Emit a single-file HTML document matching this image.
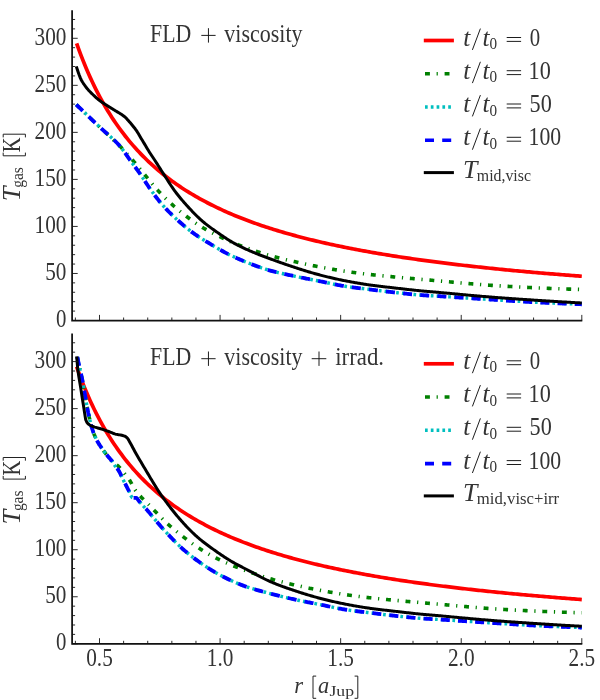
<!DOCTYPE html>
<html><head><meta charset="utf-8"><title>T_gas vs r</title>
<style>html,body{margin:0;padding:0;background:#fff;}body{width:600px;height:700px;overflow:hidden;font-family:"Liberation Serif",serif;}svg{display:block;}</style></head>
<body>
<svg width="600" height="700" viewBox="0 0 600 700" font-family='"Liberation Serif", serif' fill="#343434" style="will-change:transform">
<rect width="600" height="700" fill="#fff"/>
<g fill="none" stroke-linecap="butt" stroke-linejoin="round">
<path d="M76.64 43.4 L78.59 48.86 L80.54 54.12 L82.49 59.18 L84.44 64.04 L86.39 68.74 L88.34 73.26 L90.29 77.62 L92.24 81.84 L94.19 85.91 L96.14 89.84 L98.09 93.65 L100.04 97.33 L101.99 100.89 L103.94 104.35 L105.9 107.69 L107.85 110.94 L109.8 114.09 L111.75 117.14 L113.7 120.11 L115.65 122.99 L117.6 125.79 L119.55 128.51 L121.5 131.16 L123.45 133.74 L125.4 136.24 L127.35 138.68 L129.3 141.06 L131.25 143.38 L133.2 145.63 L135.15 147.83 L137.1 149.98 L139.05 152.07 L141 154.12 L142.95 156.11 L144.9 158.06 L146.85 159.96 L148.8 161.82 L150.76 163.63 L152.71 165.41 L154.66 167.14 L156.61 168.84 L158.56 170.5 L160.51 172.12 L162.46 173.71 L164.41 175.27 L166.36 176.79 L168.31 178.28 L170.26 179.74 L172.21 181.18 L174.16 182.58 L176.11 183.95 L178.06 185.3 L180.01 186.62 L181.96 187.92 L183.91 189.19 L185.86 190.44 L187.81 191.66 L189.76 192.86 L191.71 194.04 L193.66 195.2 L195.62 196.34 L197.57 197.45 L199.52 198.55 L201.47 199.63 L203.42 200.69 L205.37 201.73 L207.32 202.75 L209.27 203.75 L211.22 204.74 L213.17 205.71 L215.12 206.67 L217.07 207.61 L219.02 208.53 L220.97 209.44 L222.92 210.34 L224.87 211.22 L226.82 212.08 L228.77 212.94 L230.72 213.78 L232.67 214.6 L234.62 215.42 L236.57 216.22 L238.52 217.01 L240.47 217.79 L242.43 218.55 L244.38 219.31 L246.33 220.05 L248.28 220.79 L250.23 221.51 L252.18 222.22 L254.13 222.92 L256.08 223.62 L258.03 224.3 L259.98 224.97 L261.93 225.63 L263.88 226.29 L265.83 226.93 L267.78 227.57 L269.73 228.2 L271.68 228.82 L273.63 229.43 L275.58 230.03 L277.53 230.63 L279.48 231.22 L281.43 231.8 L283.38 232.37 L285.33 232.94 L287.29 233.5 L289.24 234.05 L291.19 234.59 L293.14 235.13 L295.09 235.66 L297.04 236.18 L298.99 236.7 L300.94 237.21 L302.89 237.72 L304.84 238.22 L306.79 238.71 L308.74 239.2 L310.69 239.68 L312.64 240.16 L314.59 240.63 L316.54 241.09 L318.49 241.55 L320.44 242.01 L322.39 242.46 L324.34 242.9 L326.29 243.34 L328.24 243.77 L330.19 244.2 L332.15 244.63 L334.1 245.05 L336.05 245.46 L338 245.87 L339.95 246.28 L341.9 246.68 L343.85 247.08 L345.8 247.47 L347.75 247.86 L349.7 248.25 L351.65 248.63 L353.6 249.01 L355.55 249.38 L357.5 249.75 L359.45 250.11 L361.4 250.48 L363.35 250.83 L365.3 251.19 L367.25 251.54 L369.2 251.89 L371.15 252.23 L373.1 252.57 L375.05 252.91 L377 253.24 L378.96 253.57 L380.91 253.9 L382.86 254.22 L384.81 254.54 L386.76 254.86 L388.71 255.18 L390.66 255.49 L392.61 255.8 L394.56 256.1 L396.51 256.41 L398.46 256.71 L400.41 257.01 L402.36 257.3 L404.31 257.59 L406.26 257.88 L408.21 258.17 L410.16 258.45 L412.11 258.73 L414.06 259.01 L416.01 259.29 L417.96 259.56 L419.91 259.84 L421.86 260.11 L423.82 260.37 L425.77 260.64 L427.72 260.9 L429.67 261.16 L431.62 261.42 L433.57 261.67 L435.52 261.93 L437.47 262.18 L439.42 262.43 L441.37 262.67 L443.32 262.92 L445.27 263.16 L447.22 263.4 L449.17 263.64 L451.12 263.88 L453.07 264.11 L455.02 264.34 L456.97 264.57 L458.92 264.8 L460.87 265.03 L462.82 265.26 L464.77 265.48 L466.72 265.7 L468.68 265.92 L470.63 266.14 L472.58 266.36 L474.53 266.57 L476.48 266.78 L478.43 267 L480.38 267.21 L482.33 267.41 L484.28 267.62 L486.23 267.82 L488.18 268.03 L490.13 268.23 L492.08 268.43 L494.03 268.63 L495.98 268.83 L497.93 269.02 L499.88 269.22 L501.83 269.41 L503.78 269.6 L505.73 269.79 L507.68 269.98 L509.63 270.17 L511.58 270.35 L513.53 270.54 L515.49 270.72 L517.44 270.9 L519.39 271.08 L521.34 271.26 L523.29 271.44 L525.24 271.62 L527.19 271.79 L529.14 271.96 L531.09 272.14 L533.04 272.31 L534.99 272.48 L536.94 272.65 L538.89 272.82 L540.84 272.98 L542.79 273.15 L544.74 273.31 L546.69 273.48 L548.64 273.64 L550.59 273.8 L552.54 273.96 L554.49 274.12 L556.44 274.28 L558.39 274.43 L560.35 274.59 L562.3 274.74 L564.25 274.9 L566.2 275.05 L568.15 275.2 L570.1 275.35 L572.05 275.5 L574 275.65 L575.95 275.8 L577.9 275.95 L579.85 276.09 L581.8 276.24" stroke="#ff0000" stroke-width="3.7"/>
<path d="M76.3 104.6 L77.3 105.57 L78.3 106.54 L79.3 107.52 L80.3 108.48 L81.3 109.45 L82.3 110.42 L83.3 111.39 L84.3 112.36 L85.3 113.32 L86.3 114.29 L87.3 115.25 L88.3 116.21 L89.3 117.17 L90.3 118.13 L91.3 119.09 L92.3 120.05 L93.3 121.01 L94.3 121.97 L95.3 122.92 L96.3 123.88 L97.3 124.83 L98.3 125.79 L99.3 126.73 L100.3 127.67 L101.3 128.6 L102.3 129.53 L103.3 130.45 L104.3 131.37 L105.3 132.29 L106.3 133.21 L107.3 134.12 L108.3 135.04 L109.3 135.96 L110.3 136.88 L111.3 137.81 L112.3 138.75 L113.3 139.69 L114.3 140.64 L115.3 141.59 L116.3 142.56 L117.3 143.54 L118.3 144.53 L119.3 145.54 L120.3 146.56 L121.3 147.59 L122.3 148.65 L123.3 149.71 L124.3 150.79 L125.3 151.88 L126.3 152.98 L127.3 154.1 L128.3 155.22 L129.3 156.35 L130.3 157.48 L131.3 158.63 L132.3 159.77 L133.3 160.92 L134.3 162.09 L135.3 163.27 L136.3 164.46 L137.3 165.66 L138.3 166.87 L139.3 168.09 L140.3 169.3 L141.3 170.52 L142.3 171.74 L143.3 172.95 L144.3 174.16 L145.3 175.36 L146.3 176.57 L147.3 177.8 L148.3 179.03 L149.3 180.26 L150.3 181.5 L151.3 182.73 L152.3 183.95 L153.3 185.16 L154.3 186.35 L155.3 187.52 L156.3 188.67 L157.3 189.78 L158.3 190.87 L159.3 191.94 L160.3 193 L161.3 194.05 L162.3 195.09 L163.3 196.11 L164.3 197.11 L165.3 198.11 L166.3 199.09 L167.3 200.05 L168.3 201.01 L169.3 201.95 L170.3 202.88 L171.3 203.8 L172.3 204.7 L173.3 205.59 L174.3 206.48 L175.3 207.35 L176.3 208.22 L177.3 209.07 L178.3 209.91 L179.3 210.74 L180.3 211.57 L181.3 212.38 L182.3 213.18 L183.3 213.97 L184.3 214.75 L185.3 215.53 L186.3 216.29 L187.3 217.04 L188.3 217.79 L189.3 218.53 L190.3 219.27 L191.3 220 L192.3 220.72 L193.3 221.44 L194.3 222.14 L195.3 222.84 L196.3 223.52 L197.3 224.19 L198.3 224.86 L199.3 225.51 L200.3 226.14 L201.3 226.77 L202.3 227.38 L203.3 227.98 L204.3 228.56 L205.3 229.14 L206.3 229.71 L207.3 230.26 L208.3 230.81 L209.3 231.35 L210.3 231.88 L211.3 232.41 L212.3 232.93 L213.3 233.44 L214.3 233.95 L215.3 234.45 L216.3 234.95 L217.3 235.44 L218.3 235.93 L219.3 236.41 L220.3 236.89 L221.3 237.37 L222.3 237.85 L223.3 238.32 L224.3 238.79 L225.3 239.25 L226.3 239.71 L227.3 240.16 L228.3 240.61 L229.3 241.05 L230.3 241.49 L231.3 241.93 L232.3 242.36 L233.3 242.78 L234.3 243.2 L235.3 243.61 L236.3 244.02 L237.3 244.42 L238.3 244.82 L239.3 245.21 L240.3 245.59 L241.3 245.97 L242.3 246.35 L243.3 246.72 L244.3 247.09 L245.3 247.45 L246.3 247.81 L247.3 248.17 L248.3 248.53 L249.3 248.88 L250.3 249.22 L251.3 249.57 L252.3 249.91 L253.3 250.25 L254.3 250.59 L255.3 250.93 L256.3 251.27 L257.3 251.6 L258.3 251.94 L259.3 252.27 L260.3 252.6 L261.3 252.93 L262.3 253.25 L263.3 253.58 L264.3 253.89 L265.3 254.21 L266.3 254.52 L267.3 254.82 L268.3 255.11 L269.3 255.4 L270.3 255.68 L271.3 255.96 L272.3 256.23 L273.3 256.5 L274.3 256.77 L275.3 257.03 L276.3 257.29 L277.3 257.55 L278.3 257.8 L279.3 258.06 L280.3 258.3 L281.3 258.55 L282.3 258.79 L283.3 259.04 L284.3 259.28 L285.3 259.51 L286.3 259.75 L287.3 259.98 L288.3 260.22 L289.3 260.45 L290.3 260.68 L291.3 260.91 L292.3 261.14 L293.3 261.36 L294.3 261.59 L295.3 261.82 L296.3 262.04 L297.3 262.27 L298.3 262.49 L299.3 262.72 L300.3 262.94 L301.3 263.16 L302.3 263.38 L303.3 263.6 L304.3 263.81 L305.3 264.03 L306.3 264.24 L307.3 264.45 L308.3 264.66 L309.3 264.87 L310.3 265.08 L311.3 265.29 L312.3 265.49 L313.3 265.69 L314.3 265.89 L315.3 266.09 L316.3 266.29 L317.3 266.48 L318.3 266.68 L319.3 266.87 L320.3 267.06 L321.3 267.24 L322.3 267.43 L323.3 267.61 L324.3 267.8 L325.3 267.98 L326.3 268.16 L327.3 268.34 L328.3 268.52 L329.3 268.7 L330.3 268.87 L331.3 269.05 L332.3 269.22 L333.3 269.39 L334.3 269.56 L335.3 269.72 L336.3 269.89 L337.3 270.05 L338.3 270.22 L339.3 270.38 L340.3 270.53 L341.3 270.69 L342.3 270.84 L343.3 271 L344.3 271.15 L345.3 271.29 L346.3 271.44 L347.3 271.59 L348.3 271.73 L349.3 271.87 L350.3 272.01 L351.3 272.15 L352.3 272.29 L353.3 272.42 L354.3 272.56 L355.3 272.69 L356.3 272.83 L357.3 272.96 L358.3 273.09 L359.3 273.21 L360.3 273.34 L361.3 273.47 L362.3 273.59 L363.3 273.71 L364.3 273.83 L365.3 273.95 L366.3 274.07 L367.3 274.19 L368.3 274.31 L369.3 274.42 L370.3 274.53 L371.3 274.65 L372.3 274.76 L373.3 274.86 L374.3 274.97 L375.3 275.08 L376.3 275.18 L377.3 275.29 L378.3 275.39 L379.3 275.49 L380.3 275.59 L381.3 275.69 L382.3 275.79 L383.3 275.89 L384.3 275.98 L385.3 276.08 L386.3 276.18 L387.3 276.27 L388.3 276.37 L389.3 276.46 L390.3 276.56 L391.3 276.65 L392.3 276.74 L393.3 276.84 L394.3 276.93 L395.3 277.03 L396.3 277.12 L397.3 277.22 L398.3 277.31 L399.3 277.4 L400.3 277.49 L401.3 277.59 L402.3 277.68 L403.3 277.77 L404.3 277.86 L405.3 277.95 L406.3 278.04 L407.3 278.13 L408.3 278.22 L409.3 278.3 L410.3 278.39 L411.3 278.48 L412.3 278.57 L413.3 278.66 L414.3 278.75 L415.3 278.83 L416.3 278.92 L417.3 279.01 L418.3 279.1 L419.3 279.19 L420.3 279.28 L421.3 279.37 L422.3 279.45 L423.3 279.54 L424.3 279.63 L425.3 279.72 L426.3 279.81 L427.3 279.89 L428.3 279.98 L429.3 280.07 L430.3 280.16 L431.3 280.24 L432.3 280.33 L433.3 280.42 L434.3 280.51 L435.3 280.59 L436.3 280.68 L437.3 280.77 L438.3 280.85 L439.3 280.94 L440.3 281.03 L441.3 281.11 L442.3 281.2 L443.3 281.29 L444.3 281.38 L445.3 281.47 L446.3 281.55 L447.3 281.64 L448.3 281.73 L449.3 281.82 L450.3 281.92 L451.3 282.01 L452.3 282.1 L453.3 282.19 L454.3 282.28 L455.3 282.37 L456.3 282.46 L457.3 282.55 L458.3 282.64 L459.3 282.73 L460.3 282.82 L461.3 282.92 L462.3 283.01 L463.3 283.1 L464.3 283.19 L465.3 283.27 L466.3 283.36 L467.3 283.45 L468.3 283.54 L469.3 283.63 L470.3 283.71 L471.3 283.8 L472.3 283.89 L473.3 283.97 L474.3 284.05 L475.3 284.14 L476.3 284.22 L477.3 284.3 L478.3 284.38 L479.3 284.46 L480.3 284.54 L481.3 284.62 L482.3 284.7 L483.3 284.77 L484.3 284.85 L485.3 284.92 L486.3 284.99 L487.3 285.06 L488.3 285.13 L489.3 285.2 L490.3 285.27 L491.3 285.34 L492.3 285.4 L493.3 285.47 L494.3 285.53 L495.3 285.6 L496.3 285.66 L497.3 285.73 L498.3 285.79 L499.3 285.85 L500.3 285.91 L501.3 285.97 L502.3 286.04 L503.3 286.1 L504.3 286.16 L505.3 286.22 L506.3 286.28 L507.3 286.34 L508.3 286.39 L509.3 286.45 L510.3 286.51 L511.3 286.57 L512.3 286.62 L513.3 286.68 L514.3 286.73 L515.3 286.79 L516.3 286.84 L517.3 286.9 L518.3 286.95 L519.3 287.01 L520.3 287.06 L521.3 287.11 L522.3 287.16 L523.3 287.21 L524.3 287.26 L525.3 287.32 L526.3 287.36 L527.3 287.41 L528.3 287.46 L529.3 287.51 L530.3 287.56 L531.3 287.61 L532.3 287.65 L533.3 287.7 L534.3 287.75 L535.3 287.79 L536.3 287.84 L537.3 287.88 L538.3 287.93 L539.3 287.97 L540.3 288.01 L541.3 288.06 L542.3 288.1 L543.3 288.14 L544.3 288.18 L545.3 288.22 L546.3 288.27 L547.3 288.31 L548.3 288.35 L549.3 288.39 L550.3 288.43 L551.3 288.47 L552.3 288.51 L553.3 288.55 L554.3 288.58 L555.3 288.62 L556.3 288.66 L557.3 288.7 L558.3 288.74 L559.3 288.77 L560.3 288.81 L561.3 288.85 L562.3 288.88 L563.3 288.92 L564.3 288.95 L565.3 288.99 L566.3 289.02 L567.3 289.05 L568.3 289.09 L569.3 289.12 L570.3 289.15 L571.3 289.19 L572.3 289.22 L573.3 289.25 L574.3 289.28 L575.3 289.31 L576.3 289.34 L577.3 289.37 L578.3 289.4 L579.3 289.43 L580.3 289.45 L581.3 289.48 L581.8 289.49" stroke="#008000" stroke-width="3.6" stroke-dasharray="4.9 6.7 1.2 6.8"/>
<path d="M76.3 104.6 L77.3 105.57 L78.3 106.54 L79.3 107.52 L80.3 108.48 L81.3 109.45 L82.3 110.42 L83.3 111.39 L84.3 112.36 L85.3 113.32 L86.3 114.29 L87.3 115.25 L88.3 116.21 L89.3 117.17 L90.3 118.13 L91.3 119.09 L92.3 120.05 L93.3 121.01 L94.3 121.97 L95.3 122.92 L96.3 123.88 L97.3 124.83 L98.3 125.79 L99.3 126.72 L100.3 127.64 L101.3 128.55 L102.3 129.45 L103.3 130.33 L104.3 131.21 L105.3 132.09 L106.3 132.97 L107.3 133.84 L108.3 134.72 L109.3 135.61 L110.3 136.51 L111.3 137.42 L112.3 138.35 L113.3 139.29 L114.3 140.25 L115.3 141.24 L116.3 142.25 L117.3 143.29 L118.3 144.35 L119.3 145.46 L120.3 146.6 L121.3 147.81 L122.3 149.1 L123.3 150.45 L124.3 151.84 L125.3 153.27 L126.3 154.71 L127.3 156.17 L128.3 157.61 L129.3 159.03 L130.3 160.41 L131.3 161.78 L132.3 163.14 L133.3 164.49 L134.3 165.85 L135.3 167.21 L136.3 168.57 L137.3 169.95 L138.3 171.34 L139.3 172.75 L140.3 174.18 L141.3 175.65 L142.3 177.15 L143.3 178.68 L144.3 180.22 L145.3 181.76 L146.3 183.3 L147.3 184.81 L148.3 186.31 L149.3 187.76 L150.3 189.17 L151.3 190.56 L152.3 191.94 L153.3 193.32 L154.3 194.68 L155.3 196.02 L156.3 197.35 L157.3 198.65 L158.3 199.94 L159.3 201.19 L160.3 202.42 L161.3 203.61 L162.3 204.77 L163.3 205.9 L164.3 207.01 L165.3 208.09 L166.3 209.15 L167.3 210.19 L168.3 211.22 L169.3 212.23 L170.3 213.22 L171.3 214.2 L172.3 215.16 L173.3 216.11 L174.3 217.05 L175.3 217.98 L176.3 218.9 L177.3 219.82 L178.3 220.73 L179.3 221.63 L180.3 222.52 L181.3 223.4 L182.3 224.28 L183.3 225.14 L184.3 226 L185.3 226.84 L186.3 227.67 L187.3 228.49 L188.3 229.29 L189.3 230.08 L190.3 230.86 L191.3 231.61 L192.3 232.35 L193.3 233.08 L194.3 233.79 L195.3 234.48 L196.3 235.17 L197.3 235.84 L198.3 236.5 L199.3 237.16 L200.3 237.8 L201.3 238.44 L202.3 239.06 L203.3 239.69 L204.3 240.3 L205.3 240.91 L206.3 241.52 L207.3 242.13 L208.3 242.73 L209.3 243.33 L210.3 243.93 L211.3 244.53 L212.3 245.13 L213.3 245.73 L214.3 246.33 L215.3 246.92 L216.3 247.51 L217.3 248.1 L218.3 248.69 L219.3 249.27 L220.3 249.84 L221.3 250.41 L222.3 250.97 L223.3 251.52 L224.3 252.07 L225.3 252.61 L226.3 253.13 L227.3 253.65 L228.3 254.16 L229.3 254.66 L230.3 255.14 L231.3 255.62 L232.3 256.1 L233.3 256.56 L234.3 257.02 L235.3 257.48 L236.3 257.93 L237.3 258.38 L238.3 258.82 L239.3 259.25 L240.3 259.68 L241.3 260.11 L242.3 260.53 L243.3 260.94 L244.3 261.35 L245.3 261.76 L246.3 262.16 L247.3 262.56 L248.3 262.96 L249.3 263.35 L250.3 263.73 L251.3 264.11 L252.3 264.49 L253.3 264.87 L254.3 265.24 L255.3 265.61 L256.3 265.98 L257.3 266.34 L258.3 266.7 L259.3 267.06 L260.3 267.41 L261.3 267.76 L262.3 268.1 L263.3 268.44 L264.3 268.77 L265.3 269.09 L266.3 269.41 L267.3 269.72 L268.3 270.02 L269.3 270.3 L270.3 270.58 L271.3 270.85 L272.3 271.12 L273.3 271.38 L274.3 271.64 L275.3 271.89 L276.3 272.13 L277.3 272.37 L278.3 272.61 L279.3 272.84 L280.3 273.07 L281.3 273.3 L282.3 273.53 L283.3 273.75 L284.3 273.97 L285.3 274.18 L286.3 274.4 L287.3 274.61 L288.3 274.83 L289.3 275.04 L290.3 275.25 L291.3 275.46 L292.3 275.68 L293.3 275.89 L294.3 276.1 L295.3 276.31 L296.3 276.53 L297.3 276.74 L298.3 276.94 L299.3 277.15 L300.3 277.36 L301.3 277.56 L302.3 277.76 L303.3 277.96 L304.3 278.16 L305.3 278.36 L306.3 278.56 L307.3 278.75 L308.3 278.95 L309.3 279.15 L310.3 279.34 L311.3 279.54 L312.3 279.73 L313.3 279.93 L314.3 280.12 L315.3 280.32 L316.3 280.52 L317.3 280.71 L318.3 280.91 L319.3 281.11 L320.3 281.31 L321.3 281.51 L322.3 281.72 L323.3 281.93 L324.3 282.14 L325.3 282.35 L326.3 282.56 L327.3 282.77 L328.3 282.99 L329.3 283.2 L330.3 283.42 L331.3 283.63 L332.3 283.84 L333.3 284.05 L334.3 284.26 L335.3 284.46 L336.3 284.67 L337.3 284.87 L338.3 285.06 L339.3 285.25 L340.3 285.44 L341.3 285.62 L342.3 285.8 L343.3 285.97 L344.3 286.14 L345.3 286.3 L346.3 286.45 L347.3 286.6 L348.3 286.75 L349.3 286.89 L350.3 287.03 L351.3 287.17 L352.3 287.31 L353.3 287.44 L354.3 287.57 L355.3 287.7 L356.3 287.83 L357.3 287.95 L358.3 288.08 L359.3 288.2 L360.3 288.32 L361.3 288.44 L362.3 288.56 L363.3 288.68 L364.3 288.8 L365.3 288.92 L366.3 289.05 L367.3 289.17 L368.3 289.29 L369.3 289.41 L370.3 289.54 L371.3 289.66 L372.3 289.79 L373.3 289.91 L374.3 290.04 L375.3 290.16 L376.3 290.29 L377.3 290.41 L378.3 290.53 L379.3 290.66 L380.3 290.78 L381.3 290.9 L382.3 291.02 L383.3 291.15 L384.3 291.27 L385.3 291.39 L386.3 291.51 L387.3 291.62 L388.3 291.74 L389.3 291.86 L390.3 291.97 L391.3 292.09 L392.3 292.2 L393.3 292.31 L394.3 292.42 L395.3 292.53 L396.3 292.64 L397.3 292.75 L398.3 292.86 L399.3 292.97 L400.3 293.08 L401.3 293.19 L402.3 293.3 L403.3 293.41 L404.3 293.51 L405.3 293.62 L406.3 293.73 L407.3 293.83 L408.3 293.94 L409.3 294.04 L410.3 294.14 L411.3 294.24 L412.3 294.33 L413.3 294.43 L414.3 294.52 L415.3 294.61 L416.3 294.7 L417.3 294.78 L418.3 294.87 L419.3 294.95 L420.3 295.02 L421.3 295.1 L422.3 295.17 L423.3 295.24 L424.3 295.3 L425.3 295.37 L426.3 295.43 L427.3 295.5 L428.3 295.56 L429.3 295.62 L430.3 295.67 L431.3 295.73 L432.3 295.79 L433.3 295.85 L434.3 295.91 L435.3 295.97 L436.3 296.02 L437.3 296.08 L438.3 296.14 L439.3 296.21 L440.3 296.27 L441.3 296.33 L442.3 296.4 L443.3 296.46 L444.3 296.53 L445.3 296.59 L446.3 296.65 L447.3 296.72 L448.3 296.78 L449.3 296.85 L450.3 296.91 L451.3 296.98 L452.3 297.05 L453.3 297.11 L454.3 297.18 L455.3 297.24 L456.3 297.31 L457.3 297.37 L458.3 297.44 L459.3 297.51 L460.3 297.57 L461.3 297.64 L462.3 297.7 L463.3 297.77 L464.3 297.84 L465.3 297.9 L466.3 297.97 L467.3 298.03 L468.3 298.1 L469.3 298.17 L470.3 298.23 L471.3 298.3 L472.3 298.36 L473.3 298.43 L474.3 298.49 L475.3 298.56 L476.3 298.62 L477.3 298.69 L478.3 298.75 L479.3 298.82 L480.3 298.88 L481.3 298.95 L482.3 299.01 L483.3 299.08 L484.3 299.14 L485.3 299.2 L486.3 299.27 L487.3 299.33 L488.3 299.39 L489.3 299.46 L490.3 299.52 L491.3 299.58 L492.3 299.64 L493.3 299.71 L494.3 299.77 L495.3 299.83 L496.3 299.9 L497.3 299.96 L498.3 300.02 L499.3 300.09 L500.3 300.15 L501.3 300.22 L502.3 300.28 L503.3 300.34 L504.3 300.41 L505.3 300.47 L506.3 300.54 L507.3 300.6 L508.3 300.66 L509.3 300.73 L510.3 300.79 L511.3 300.85 L512.3 300.92 L513.3 300.98 L514.3 301.04 L515.3 301.1 L516.3 301.16 L517.3 301.23 L518.3 301.29 L519.3 301.35 L520.3 301.41 L521.3 301.47 L522.3 301.53 L523.3 301.59 L524.3 301.65 L525.3 301.71 L526.3 301.76 L527.3 301.82 L528.3 301.88 L529.3 301.94 L530.3 301.99 L531.3 302.05 L532.3 302.1 L533.3 302.16 L534.3 302.21 L535.3 302.26 L536.3 302.31 L537.3 302.37 L538.3 302.42 L539.3 302.47 L540.3 302.51 L541.3 302.56 L542.3 302.61 L543.3 302.66 L544.3 302.71 L545.3 302.76 L546.3 302.8 L547.3 302.85 L548.3 302.9 L549.3 302.94 L550.3 302.99 L551.3 303.03 L552.3 303.08 L553.3 303.12 L554.3 303.17 L555.3 303.21 L556.3 303.26 L557.3 303.3 L558.3 303.34 L559.3 303.39 L560.3 303.43 L561.3 303.47 L562.3 303.51 L563.3 303.55 L564.3 303.59 L565.3 303.63 L566.3 303.67 L567.3 303.71 L568.3 303.75 L569.3 303.79 L570.3 303.83 L571.3 303.87 L572.3 303.91 L573.3 303.94 L574.3 303.98 L575.3 304.02 L576.3 304.05 L577.3 304.09 L578.3 304.12 L579.3 304.16 L580.3 304.19 L581.3 304.23 L581.8 304.24" stroke="#00bfbf" stroke-width="3.4" stroke-dasharray="2.7 3.1"/>
<path d="M76.3 104.6 L77.3 105.57 L78.3 106.54 L79.3 107.52 L80.3 108.48 L81.3 109.45 L82.3 110.42 L83.3 111.39 L84.3 112.36 L85.3 113.32 L86.3 114.29 L87.3 115.25 L88.3 116.21 L89.3 117.17 L90.3 118.13 L91.3 119.09 L92.3 120.05 L93.3 121.01 L94.3 121.97 L95.3 122.92 L96.3 123.88 L97.3 124.83 L98.3 125.79 L99.3 126.72 L100.3 127.64 L101.3 128.55 L102.3 129.45 L103.3 130.33 L104.3 131.21 L105.3 132.09 L106.3 132.97 L107.3 133.84 L108.3 134.72 L109.3 135.61 L110.3 136.51 L111.3 137.42 L112.3 138.35 L113.3 139.29 L114.3 140.25 L115.3 141.24 L116.3 142.25 L117.3 143.29 L118.3 144.35 L119.3 145.46 L120.3 146.6 L121.3 147.81 L122.3 149.1 L123.3 150.45 L124.3 151.84 L125.3 153.27 L126.3 154.71 L127.3 156.17 L128.3 157.61 L129.3 159.03 L130.3 160.41 L131.3 161.78 L132.3 163.14 L133.3 164.49 L134.3 165.85 L135.3 167.21 L136.3 168.57 L137.3 169.95 L138.3 171.34 L139.3 172.75 L140.3 174.18 L141.3 175.65 L142.3 177.15 L143.3 178.68 L144.3 180.22 L145.3 181.76 L146.3 183.3 L147.3 184.81 L148.3 186.31 L149.3 187.76 L150.3 189.17 L151.3 190.56 L152.3 191.94 L153.3 193.32 L154.3 194.68 L155.3 196.02 L156.3 197.35 L157.3 198.65 L158.3 199.94 L159.3 201.19 L160.3 202.42 L161.3 203.61 L162.3 204.77 L163.3 205.9 L164.3 207.01 L165.3 208.09 L166.3 209.15 L167.3 210.19 L168.3 211.22 L169.3 212.23 L170.3 213.22 L171.3 214.2 L172.3 215.16 L173.3 216.11 L174.3 217.05 L175.3 217.98 L176.3 218.9 L177.3 219.82 L178.3 220.73 L179.3 221.63 L180.3 222.52 L181.3 223.4 L182.3 224.28 L183.3 225.14 L184.3 226 L185.3 226.84 L186.3 227.67 L187.3 228.49 L188.3 229.29 L189.3 230.08 L190.3 230.86 L191.3 231.61 L192.3 232.35 L193.3 233.08 L194.3 233.79 L195.3 234.48 L196.3 235.17 L197.3 235.84 L198.3 236.5 L199.3 237.16 L200.3 237.8 L201.3 238.44 L202.3 239.06 L203.3 239.69 L204.3 240.3 L205.3 240.91 L206.3 241.52 L207.3 242.13 L208.3 242.73 L209.3 243.33 L210.3 243.93 L211.3 244.53 L212.3 245.13 L213.3 245.73 L214.3 246.33 L215.3 246.92 L216.3 247.51 L217.3 248.1 L218.3 248.69 L219.3 249.27 L220.3 249.84 L221.3 250.41 L222.3 250.97 L223.3 251.52 L224.3 252.07 L225.3 252.61 L226.3 253.13 L227.3 253.65 L228.3 254.16 L229.3 254.66 L230.3 255.14 L231.3 255.62 L232.3 256.1 L233.3 256.56 L234.3 257.02 L235.3 257.48 L236.3 257.93 L237.3 258.38 L238.3 258.82 L239.3 259.25 L240.3 259.68 L241.3 260.11 L242.3 260.53 L243.3 260.94 L244.3 261.35 L245.3 261.76 L246.3 262.16 L247.3 262.56 L248.3 262.96 L249.3 263.35 L250.3 263.73 L251.3 264.11 L252.3 264.49 L253.3 264.87 L254.3 265.24 L255.3 265.61 L256.3 265.98 L257.3 266.34 L258.3 266.7 L259.3 267.06 L260.3 267.41 L261.3 267.76 L262.3 268.1 L263.3 268.44 L264.3 268.77 L265.3 269.09 L266.3 269.41 L267.3 269.72 L268.3 270.02 L269.3 270.3 L270.3 270.58 L271.3 270.85 L272.3 271.12 L273.3 271.38 L274.3 271.64 L275.3 271.89 L276.3 272.13 L277.3 272.37 L278.3 272.61 L279.3 272.84 L280.3 273.07 L281.3 273.3 L282.3 273.53 L283.3 273.75 L284.3 273.97 L285.3 274.18 L286.3 274.4 L287.3 274.61 L288.3 274.83 L289.3 275.04 L290.3 275.25 L291.3 275.46 L292.3 275.68 L293.3 275.89 L294.3 276.1 L295.3 276.31 L296.3 276.53 L297.3 276.74 L298.3 276.94 L299.3 277.15 L300.3 277.36 L301.3 277.56 L302.3 277.76 L303.3 277.96 L304.3 278.16 L305.3 278.36 L306.3 278.56 L307.3 278.75 L308.3 278.95 L309.3 279.15 L310.3 279.34 L311.3 279.54 L312.3 279.73 L313.3 279.93 L314.3 280.12 L315.3 280.32 L316.3 280.52 L317.3 280.71 L318.3 280.91 L319.3 281.11 L320.3 281.31 L321.3 281.51 L322.3 281.72 L323.3 281.93 L324.3 282.14 L325.3 282.35 L326.3 282.56 L327.3 282.77 L328.3 282.99 L329.3 283.2 L330.3 283.42 L331.3 283.63 L332.3 283.84 L333.3 284.05 L334.3 284.26 L335.3 284.46 L336.3 284.67 L337.3 284.87 L338.3 285.06 L339.3 285.25 L340.3 285.44 L341.3 285.62 L342.3 285.8 L343.3 285.97 L344.3 286.14 L345.3 286.3 L346.3 286.45 L347.3 286.6 L348.3 286.75 L349.3 286.89 L350.3 287.03 L351.3 287.17 L352.3 287.31 L353.3 287.44 L354.3 287.57 L355.3 287.7 L356.3 287.83 L357.3 287.95 L358.3 288.08 L359.3 288.2 L360.3 288.32 L361.3 288.44 L362.3 288.56 L363.3 288.68 L364.3 288.8 L365.3 288.92 L366.3 289.05 L367.3 289.17 L368.3 289.29 L369.3 289.41 L370.3 289.54 L371.3 289.66 L372.3 289.79 L373.3 289.91 L374.3 290.04 L375.3 290.16 L376.3 290.29 L377.3 290.41 L378.3 290.53 L379.3 290.66 L380.3 290.78 L381.3 290.9 L382.3 291.02 L383.3 291.15 L384.3 291.27 L385.3 291.39 L386.3 291.51 L387.3 291.62 L388.3 291.74 L389.3 291.86 L390.3 291.97 L391.3 292.09 L392.3 292.2 L393.3 292.31 L394.3 292.42 L395.3 292.53 L396.3 292.64 L397.3 292.75 L398.3 292.86 L399.3 292.97 L400.3 293.08 L401.3 293.19 L402.3 293.3 L403.3 293.41 L404.3 293.51 L405.3 293.62 L406.3 293.73 L407.3 293.83 L408.3 293.94 L409.3 294.04 L410.3 294.14 L411.3 294.24 L412.3 294.33 L413.3 294.43 L414.3 294.52 L415.3 294.61 L416.3 294.7 L417.3 294.78 L418.3 294.87 L419.3 294.95 L420.3 295.02 L421.3 295.1 L422.3 295.17 L423.3 295.24 L424.3 295.3 L425.3 295.37 L426.3 295.43 L427.3 295.5 L428.3 295.56 L429.3 295.62 L430.3 295.67 L431.3 295.73 L432.3 295.79 L433.3 295.85 L434.3 295.91 L435.3 295.97 L436.3 296.02 L437.3 296.08 L438.3 296.14 L439.3 296.21 L440.3 296.27 L441.3 296.33 L442.3 296.4 L443.3 296.46 L444.3 296.53 L445.3 296.59 L446.3 296.65 L447.3 296.72 L448.3 296.78 L449.3 296.85 L450.3 296.91 L451.3 296.98 L452.3 297.05 L453.3 297.11 L454.3 297.18 L455.3 297.24 L456.3 297.31 L457.3 297.37 L458.3 297.44 L459.3 297.51 L460.3 297.57 L461.3 297.64 L462.3 297.7 L463.3 297.77 L464.3 297.84 L465.3 297.9 L466.3 297.97 L467.3 298.03 L468.3 298.1 L469.3 298.17 L470.3 298.23 L471.3 298.3 L472.3 298.36 L473.3 298.43 L474.3 298.49 L475.3 298.56 L476.3 298.62 L477.3 298.69 L478.3 298.75 L479.3 298.82 L480.3 298.88 L481.3 298.95 L482.3 299.01 L483.3 299.08 L484.3 299.14 L485.3 299.2 L486.3 299.27 L487.3 299.33 L488.3 299.39 L489.3 299.46 L490.3 299.52 L491.3 299.58 L492.3 299.64 L493.3 299.71 L494.3 299.77 L495.3 299.83 L496.3 299.9 L497.3 299.96 L498.3 300.02 L499.3 300.09 L500.3 300.15 L501.3 300.22 L502.3 300.28 L503.3 300.34 L504.3 300.41 L505.3 300.47 L506.3 300.54 L507.3 300.6 L508.3 300.66 L509.3 300.73 L510.3 300.79 L511.3 300.85 L512.3 300.92 L513.3 300.98 L514.3 301.04 L515.3 301.1 L516.3 301.16 L517.3 301.23 L518.3 301.29 L519.3 301.35 L520.3 301.41 L521.3 301.47 L522.3 301.53 L523.3 301.59 L524.3 301.65 L525.3 301.71 L526.3 301.76 L527.3 301.82 L528.3 301.88 L529.3 301.94 L530.3 301.99 L531.3 302.05 L532.3 302.1 L533.3 302.16 L534.3 302.21 L535.3 302.26 L536.3 302.31 L537.3 302.37 L538.3 302.42 L539.3 302.47 L540.3 302.51 L541.3 302.56 L542.3 302.61 L543.3 302.66 L544.3 302.71 L545.3 302.76 L546.3 302.8 L547.3 302.85 L548.3 302.9 L549.3 302.94 L550.3 302.99 L551.3 303.03 L552.3 303.08 L553.3 303.12 L554.3 303.17 L555.3 303.21 L556.3 303.26 L557.3 303.3 L558.3 303.34 L559.3 303.39 L560.3 303.43 L561.3 303.47 L562.3 303.51 L563.3 303.55 L564.3 303.59 L565.3 303.63 L566.3 303.67 L567.3 303.71 L568.3 303.75 L569.3 303.79 L570.3 303.83 L571.3 303.87 L572.3 303.91 L573.3 303.94 L574.3 303.98 L575.3 304.02 L576.3 304.05 L577.3 304.09 L578.3 304.12 L579.3 304.16 L580.3 304.19 L581.3 304.23 L581.8 304.24" stroke="#0000ff" stroke-width="3.8" stroke-dasharray="9 8.2" stroke-dashoffset="0"/>
<path d="M76.3 66.4 L77.3 69.56 L78.3 72.5 L79.3 75.31 L80.3 77.9 L81.3 79.98 L82.3 81.73 L83.3 83.28 L84.3 84.74 L85.3 86.15 L86.3 87.47 L87.3 88.72 L88.3 89.9 L89.3 91.01 L90.3 92.06 L91.3 93.07 L92.3 94.04 L93.3 95 L94.3 95.95 L95.3 96.89 L96.3 97.8 L97.3 98.68 L98.3 99.5 L99.3 100.27 L100.3 101 L101.3 101.71 L102.3 102.39 L103.3 103.06 L104.3 103.73 L105.3 104.39 L106.3 105.03 L107.3 105.66 L108.3 106.3 L109.3 106.93 L110.3 107.57 L111.3 108.2 L112.3 108.82 L113.3 109.44 L114.3 110.07 L115.3 110.68 L116.3 111.29 L117.3 111.88 L118.3 112.48 L119.3 113.08 L120.3 113.69 L121.3 114.33 L122.3 115 L123.3 115.68 L124.3 116.42 L125.3 117.27 L126.3 118.27 L127.3 119.39 L128.3 120.55 L129.3 121.68 L130.3 122.82 L131.3 124 L132.3 125.21 L133.3 126.45 L134.3 127.71 L135.3 129.03 L136.3 130.42 L137.3 131.92 L138.3 133.57 L139.3 135.3 L140.3 137.03 L141.3 138.69 L142.3 140.34 L143.3 141.99 L144.3 143.64 L145.3 145.31 L146.3 147 L147.3 148.69 L148.3 150.35 L149.3 151.95 L150.3 153.51 L151.3 155.04 L152.3 156.54 L153.3 158.04 L154.3 159.53 L155.3 161.04 L156.3 162.58 L157.3 164.13 L158.3 165.7 L159.3 167.29 L160.3 168.87 L161.3 170.46 L162.3 172.04 L163.3 173.61 L164.3 175.17 L165.3 176.71 L166.3 178.26 L167.3 179.81 L168.3 181.37 L169.3 182.92 L170.3 184.45 L171.3 185.97 L172.3 187.45 L173.3 188.9 L174.3 190.3 L175.3 191.65 L176.3 192.97 L177.3 194.26 L178.3 195.53 L179.3 196.77 L180.3 197.99 L181.3 199.19 L182.3 200.37 L183.3 201.54 L184.3 202.68 L185.3 203.81 L186.3 204.93 L187.3 206.03 L188.3 207.12 L189.3 208.21 L190.3 209.28 L191.3 210.35 L192.3 211.41 L193.3 212.45 L194.3 213.48 L195.3 214.5 L196.3 215.5 L197.3 216.48 L198.3 217.44 L199.3 218.38 L200.3 219.3 L201.3 220.2 L202.3 221.08 L203.3 221.93 L204.3 222.76 L205.3 223.57 L206.3 224.37 L207.3 225.15 L208.3 225.91 L209.3 226.66 L210.3 227.4 L211.3 228.13 L212.3 228.85 L213.3 229.56 L214.3 230.27 L215.3 230.97 L216.3 231.67 L217.3 232.36 L218.3 233.05 L219.3 233.75 L220.3 234.44 L221.3 235.13 L222.3 235.81 L223.3 236.49 L224.3 237.17 L225.3 237.83 L226.3 238.49 L227.3 239.14 L228.3 239.79 L229.3 240.42 L230.3 241.03 L231.3 241.64 L232.3 242.23 L233.3 242.81 L234.3 243.37 L235.3 243.91 L236.3 244.44 L237.3 244.96 L238.3 245.47 L239.3 245.98 L240.3 246.47 L241.3 246.95 L242.3 247.43 L243.3 247.9 L244.3 248.36 L245.3 248.82 L246.3 249.27 L247.3 249.71 L248.3 250.15 L249.3 250.59 L250.3 251.02 L251.3 251.44 L252.3 251.87 L253.3 252.29 L254.3 252.71 L255.3 253.12 L256.3 253.54 L257.3 253.94 L258.3 254.34 L259.3 254.74 L260.3 255.13 L261.3 255.51 L262.3 255.89 L263.3 256.27 L264.3 256.65 L265.3 257.02 L266.3 257.39 L267.3 257.76 L268.3 258.13 L269.3 258.49 L270.3 258.86 L271.3 259.23 L272.3 259.59 L273.3 259.96 L274.3 260.32 L275.3 260.69 L276.3 261.05 L277.3 261.41 L278.3 261.77 L279.3 262.13 L280.3 262.48 L281.3 262.84 L282.3 263.19 L283.3 263.54 L284.3 263.89 L285.3 264.24 L286.3 264.59 L287.3 264.93 L288.3 265.27 L289.3 265.61 L290.3 265.95 L291.3 266.29 L292.3 266.62 L293.3 266.95 L294.3 267.27 L295.3 267.6 L296.3 267.92 L297.3 268.24 L298.3 268.56 L299.3 268.88 L300.3 269.2 L301.3 269.52 L302.3 269.83 L303.3 270.15 L304.3 270.46 L305.3 270.77 L306.3 271.08 L307.3 271.39 L308.3 271.69 L309.3 271.99 L310.3 272.29 L311.3 272.58 L312.3 272.87 L313.3 273.16 L314.3 273.45 L315.3 273.73 L316.3 274.01 L317.3 274.28 L318.3 274.55 L319.3 274.82 L320.3 275.08 L321.3 275.34 L322.3 275.59 L323.3 275.85 L324.3 276.1 L325.3 276.35 L326.3 276.6 L327.3 276.84 L328.3 277.09 L329.3 277.33 L330.3 277.56 L331.3 277.8 L332.3 278.03 L333.3 278.26 L334.3 278.49 L335.3 278.71 L336.3 278.94 L337.3 279.16 L338.3 279.37 L339.3 279.59 L340.3 279.8 L341.3 280.01 L342.3 280.21 L343.3 280.41 L344.3 280.61 L345.3 280.81 L346.3 281 L347.3 281.19 L348.3 281.39 L349.3 281.57 L350.3 281.76 L351.3 281.95 L352.3 282.13 L353.3 282.31 L354.3 282.49 L355.3 282.66 L356.3 282.84 L357.3 283.01 L358.3 283.18 L359.3 283.35 L360.3 283.52 L361.3 283.68 L362.3 283.84 L363.3 284 L364.3 284.16 L365.3 284.31 L366.3 284.46 L367.3 284.61 L368.3 284.76 L369.3 284.9 L370.3 285.04 L371.3 285.18 L372.3 285.32 L373.3 285.45 L374.3 285.58 L375.3 285.71 L376.3 285.84 L377.3 285.96 L378.3 286.08 L379.3 286.2 L380.3 286.32 L381.3 286.44 L382.3 286.56 L383.3 286.67 L384.3 286.79 L385.3 286.9 L386.3 287.02 L387.3 287.13 L388.3 287.24 L389.3 287.35 L390.3 287.47 L391.3 287.58 L392.3 287.69 L393.3 287.81 L394.3 287.92 L395.3 288.03 L396.3 288.15 L397.3 288.26 L398.3 288.38 L399.3 288.5 L400.3 288.61 L401.3 288.73 L402.3 288.84 L403.3 288.95 L404.3 289.07 L405.3 289.18 L406.3 289.3 L407.3 289.41 L408.3 289.52 L409.3 289.63 L410.3 289.74 L411.3 289.85 L412.3 289.96 L413.3 290.07 L414.3 290.17 L415.3 290.28 L416.3 290.38 L417.3 290.48 L418.3 290.58 L419.3 290.68 L420.3 290.78 L421.3 290.87 L422.3 290.97 L423.3 291.06 L424.3 291.15 L425.3 291.24 L426.3 291.33 L427.3 291.42 L428.3 291.5 L429.3 291.59 L430.3 291.67 L431.3 291.76 L432.3 291.84 L433.3 291.92 L434.3 292.01 L435.3 292.09 L436.3 292.18 L437.3 292.26 L438.3 292.35 L439.3 292.44 L440.3 292.53 L441.3 292.62 L442.3 292.71 L443.3 292.8 L444.3 292.89 L445.3 292.98 L446.3 293.07 L447.3 293.16 L448.3 293.25 L449.3 293.34 L450.3 293.44 L451.3 293.53 L452.3 293.62 L453.3 293.72 L454.3 293.81 L455.3 293.9 L456.3 294 L457.3 294.09 L458.3 294.18 L459.3 294.28 L460.3 294.37 L461.3 294.47 L462.3 294.56 L463.3 294.65 L464.3 294.75 L465.3 294.84 L466.3 294.93 L467.3 295.02 L468.3 295.12 L469.3 295.21 L470.3 295.3 L471.3 295.39 L472.3 295.48 L473.3 295.57 L474.3 295.67 L475.3 295.76 L476.3 295.84 L477.3 295.93 L478.3 296.02 L479.3 296.11 L480.3 296.2 L481.3 296.28 L482.3 296.37 L483.3 296.45 L484.3 296.54 L485.3 296.62 L486.3 296.7 L487.3 296.78 L488.3 296.86 L489.3 296.94 L490.3 297.02 L491.3 297.1 L492.3 297.18 L493.3 297.26 L494.3 297.33 L495.3 297.41 L496.3 297.49 L497.3 297.56 L498.3 297.64 L499.3 297.71 L500.3 297.79 L501.3 297.86 L502.3 297.94 L503.3 298.01 L504.3 298.08 L505.3 298.15 L506.3 298.23 L507.3 298.3 L508.3 298.37 L509.3 298.44 L510.3 298.51 L511.3 298.58 L512.3 298.65 L513.3 298.72 L514.3 298.79 L515.3 298.86 L516.3 298.93 L517.3 299 L518.3 299.07 L519.3 299.14 L520.3 299.2 L521.3 299.27 L522.3 299.34 L523.3 299.41 L524.3 299.47 L525.3 299.54 L526.3 299.61 L527.3 299.67 L528.3 299.74 L529.3 299.81 L530.3 299.87 L531.3 299.94 L532.3 300 L533.3 300.07 L534.3 300.13 L535.3 300.2 L536.3 300.26 L537.3 300.33 L538.3 300.39 L539.3 300.46 L540.3 300.52 L541.3 300.58 L542.3 300.65 L543.3 300.71 L544.3 300.77 L545.3 300.84 L546.3 300.9 L547.3 300.96 L548.3 301.03 L549.3 301.09 L550.3 301.15 L551.3 301.21 L552.3 301.27 L553.3 301.33 L554.3 301.4 L555.3 301.46 L556.3 301.52 L557.3 301.58 L558.3 301.64 L559.3 301.7 L560.3 301.76 L561.3 301.82 L562.3 301.88 L563.3 301.94 L564.3 301.99 L565.3 302.05 L566.3 302.11 L567.3 302.17 L568.3 302.23 L569.3 302.29 L570.3 302.34 L571.3 302.4 L572.3 302.46 L573.3 302.51 L574.3 302.57 L575.3 302.63 L576.3 302.68 L577.3 302.74 L578.3 302.8 L579.3 302.85 L580.3 302.91 L581.3 302.96 L581.8 302.99" stroke="#000" stroke-width="3"/>
</g>
<path d="M72.1 320.5h5.6M72.1 311.09h3M72.1 301.69h3M72.1 292.28h3M72.1 282.87h3M72.1 273.47h5.6M72.1 264.06h3M72.1 254.65h3M72.1 245.24h3M72.1 235.84h3M72.1 226.43h5.6M72.1 217.02h3M72.1 207.62h3M72.1 198.21h3M72.1 188.8h3M72.1 179.4h5.6M72.1 169.99h3M72.1 160.58h3M72.1 151.17h3M72.1 141.77h3M72.1 132.36h5.6M72.1 122.95h3M72.1 113.55h3M72.1 104.14h3M72.1 94.73h3M72.1 85.33h5.6M72.1 75.92h3M72.1 66.51h3M72.1 57.1h3M72.1 47.7h3M72.1 38.29h5.6M72.1 28.88h3M72.1 19.48h3M75.39 320.5v-3M99.5 320.5v-5.6M123.61 320.5v-3M147.73 320.5v-3M171.85 320.5v-3M195.96 320.5v-3M220.07 320.5v-5.6M244.19 320.5v-3M268.31 320.5v-3M292.42 320.5v-3M316.53 320.5v-3M340.65 320.5v-5.6M364.77 320.5v-3M388.88 320.5v-3M413 320.5v-3M437.11 320.5v-3M461.23 320.5v-5.6M485.34 320.5v-3M509.46 320.5v-3M533.57 320.5v-3M557.68 320.5v-3M581.8 320.5v-5.6" stroke="#151515" stroke-width="0.9" fill="none"/>
<path d="M72.1 10.2V320.5H582.3" stroke="#111" stroke-width="1.75" fill="none" stroke-linejoin="miter"/>
<text transform="translate(56 326.9) scale(1 1.14)" font-size="22" text-anchor="start" textLength="10.4" lengthAdjust="spacingAndGlyphs">0</text>
<text transform="translate(45.2 279.87) scale(1 1.14)" font-size="22" text-anchor="start" textLength="21.2" lengthAdjust="spacingAndGlyphs">50</text>
<text transform="translate(34.5 232.83) scale(1 1.14)" font-size="22" text-anchor="start" textLength="31.9" lengthAdjust="spacingAndGlyphs">100</text>
<text transform="translate(34.5 185.8) scale(1 1.14)" font-size="22" text-anchor="start" textLength="31.9" lengthAdjust="spacingAndGlyphs">150</text>
<text transform="translate(34.5 138.76) scale(1 1.14)" font-size="22" text-anchor="start" textLength="31.9" lengthAdjust="spacingAndGlyphs">200</text>
<text transform="translate(34.5 91.73) scale(1 1.14)" font-size="22" text-anchor="start" textLength="31.9" lengthAdjust="spacingAndGlyphs">250</text>
<text transform="translate(34.5 44.69) scale(1 1.14)" font-size="22" text-anchor="start" textLength="31.9" lengthAdjust="spacingAndGlyphs">300</text>
<g transform="translate(20.1 201.2) rotate(-90)">
<text transform="translate(0 0) scale(1 1.14)" font-size="22" text-anchor="start" font-style="italic" textLength="14.6" lengthAdjust="spacingAndGlyphs">T</text>
<text transform="translate(13.4 3.3) scale(1 1.02)" font-size="15.8" text-anchor="start" textLength="20.6" lengthAdjust="spacingAndGlyphs">gas</text>
<path d="M48.6 -16.9H45.4V5.3H48.6" stroke="#222" stroke-width="1" fill="none"/>
<text transform="translate(48.9 0) scale(1 1.14)" font-size="22" text-anchor="start" textLength="14.8" lengthAdjust="spacingAndGlyphs">K</text>
<path d="M63.8 -16.9H67V5.3H63.8" stroke="#222" stroke-width="1" fill="none"/>
</g>
<g fill="none" stroke-linecap="butt" stroke-linejoin="round">
<path d="M76.64 366.7 L78.59 372.16 L80.54 377.42 L82.49 382.48 L84.44 387.34 L86.39 392.04 L88.34 396.56 L90.29 400.92 L92.24 405.14 L94.19 409.21 L96.14 413.14 L98.09 416.95 L100.04 420.63 L101.99 424.19 L103.94 427.65 L105.9 430.99 L107.85 434.24 L109.8 437.39 L111.75 440.44 L113.7 443.41 L115.65 446.29 L117.6 449.09 L119.55 451.81 L121.5 454.46 L123.45 457.04 L125.4 459.54 L127.35 461.98 L129.3 464.36 L131.25 466.68 L133.2 468.93 L135.15 471.13 L137.1 473.28 L139.05 475.37 L141 477.42 L142.95 479.41 L144.9 481.36 L146.85 483.26 L148.8 485.12 L150.76 486.93 L152.71 488.71 L154.66 490.44 L156.61 492.14 L158.56 493.8 L160.51 495.42 L162.46 497.01 L164.41 498.57 L166.36 500.09 L168.31 501.58 L170.26 503.04 L172.21 504.48 L174.16 505.88 L176.11 507.25 L178.06 508.6 L180.01 509.92 L181.96 511.22 L183.91 512.49 L185.86 513.74 L187.81 514.96 L189.76 516.16 L191.71 517.34 L193.66 518.5 L195.62 519.64 L197.57 520.75 L199.52 521.85 L201.47 522.93 L203.42 523.99 L205.37 525.03 L207.32 526.05 L209.27 527.05 L211.22 528.04 L213.17 529.01 L215.12 529.97 L217.07 530.91 L219.02 531.83 L220.97 532.74 L222.92 533.64 L224.87 534.52 L226.82 535.38 L228.77 536.24 L230.72 537.08 L232.67 537.9 L234.62 538.72 L236.57 539.52 L238.52 540.31 L240.47 541.09 L242.43 541.85 L244.38 542.61 L246.33 543.35 L248.28 544.09 L250.23 544.81 L252.18 545.52 L254.13 546.22 L256.08 546.92 L258.03 547.6 L259.98 548.27 L261.93 548.93 L263.88 549.59 L265.83 550.23 L267.78 550.87 L269.73 551.5 L271.68 552.12 L273.63 552.73 L275.58 553.33 L277.53 553.93 L279.48 554.52 L281.43 555.1 L283.38 555.67 L285.33 556.24 L287.29 556.8 L289.24 557.35 L291.19 557.89 L293.14 558.43 L295.09 558.96 L297.04 559.48 L298.99 560 L300.94 560.51 L302.89 561.02 L304.84 561.52 L306.79 562.01 L308.74 562.5 L310.69 562.98 L312.64 563.46 L314.59 563.93 L316.54 564.39 L318.49 564.85 L320.44 565.31 L322.39 565.76 L324.34 566.2 L326.29 566.64 L328.24 567.07 L330.19 567.5 L332.15 567.93 L334.1 568.35 L336.05 568.76 L338 569.17 L339.95 569.58 L341.9 569.98 L343.85 570.38 L345.8 570.77 L347.75 571.16 L349.7 571.55 L351.65 571.93 L353.6 572.31 L355.55 572.68 L357.5 573.05 L359.45 573.41 L361.4 573.78 L363.35 574.13 L365.3 574.49 L367.25 574.84 L369.2 575.19 L371.15 575.53 L373.1 575.87 L375.05 576.21 L377 576.54 L378.96 576.87 L380.91 577.2 L382.86 577.52 L384.81 577.84 L386.76 578.16 L388.71 578.48 L390.66 578.79 L392.61 579.1 L394.56 579.4 L396.51 579.71 L398.46 580.01 L400.41 580.31 L402.36 580.6 L404.31 580.89 L406.26 581.18 L408.21 581.47 L410.16 581.75 L412.11 582.03 L414.06 582.31 L416.01 582.59 L417.96 582.86 L419.91 583.14 L421.86 583.41 L423.82 583.67 L425.77 583.94 L427.72 584.2 L429.67 584.46 L431.62 584.72 L433.57 584.97 L435.52 585.23 L437.47 585.48 L439.42 585.73 L441.37 585.97 L443.32 586.22 L445.27 586.46 L447.22 586.7 L449.17 586.94 L451.12 587.18 L453.07 587.41 L455.02 587.64 L456.97 587.87 L458.92 588.1 L460.87 588.33 L462.82 588.56 L464.77 588.78 L466.72 589 L468.68 589.22 L470.63 589.44 L472.58 589.66 L474.53 589.87 L476.48 590.08 L478.43 590.3 L480.38 590.51 L482.33 590.71 L484.28 590.92 L486.23 591.12 L488.18 591.33 L490.13 591.53 L492.08 591.73 L494.03 591.93 L495.98 592.13 L497.93 592.32 L499.88 592.52 L501.83 592.71 L503.78 592.9 L505.73 593.09 L507.68 593.28 L509.63 593.47 L511.58 593.65 L513.53 593.84 L515.49 594.02 L517.44 594.2 L519.39 594.38 L521.34 594.56 L523.29 594.74 L525.24 594.92 L527.19 595.09 L529.14 595.26 L531.09 595.44 L533.04 595.61 L534.99 595.78 L536.94 595.95 L538.89 596.12 L540.84 596.28 L542.79 596.45 L544.74 596.61 L546.69 596.78 L548.64 596.94 L550.59 597.1 L552.54 597.26 L554.49 597.42 L556.44 597.58 L558.39 597.73 L560.35 597.89 L562.3 598.04 L564.25 598.2 L566.2 598.35 L568.15 598.5 L570.1 598.65 L572.05 598.8 L574 598.95 L575.95 599.1 L577.9 599.25 L579.85 599.39 L581.8 599.54" stroke="#ff0000" stroke-width="3.7"/>
<path d="M77.3 357 L78.3 361.72 L79.3 366.33 L80.3 370.78 L81.3 375.14 L82.3 379.95 L83.3 385.16 L84.3 390.72 L85.3 396.84 L86.3 402.69 L87.3 408.16 L88.3 413.12 L89.3 417.53 L90.3 421.8 L91.3 425.86 L92.3 429.25 L93.3 432.17 L94.3 434.75 L95.3 437.1 L96.3 439.25 L97.3 441.18 L98.3 442.88 L99.3 444.43 L100.3 445.96 L101.3 447.47 L102.3 448.92 L103.3 450.31 L104.3 451.67 L105.3 452.99 L106.3 454.29 L107.3 455.55 L108.3 456.81 L109.3 458.07 L110.3 459.3 L111.3 460.46 L112.3 461.51 L113.3 462.4 L114.3 463.18 L115.3 463.88 L116.3 464.58 L117.3 465.34 L118.3 466.2 L119.3 467.21 L120.3 468.33 L121.3 469.53 L122.3 470.79 L123.3 472.07 L124.3 473.32 L125.3 474.56 L126.3 475.79 L127.3 477.04 L128.3 478.36 L129.3 479.76 L130.3 481.28 L131.3 483.08 L132.3 485.04 L133.3 487 L134.3 488.74 L135.3 490.19 L136.3 491.5 L137.3 492.72 L138.3 493.87 L139.3 494.97 L140.3 496.06 L141.3 497.14 L142.3 498.17 L143.3 499.17 L144.3 500.15 L145.3 501.12 L146.3 502.1 L147.3 503.1 L148.3 504.13 L149.3 505.17 L150.3 506.23 L151.3 507.29 L152.3 508.35 L153.3 509.39 L154.3 510.43 L155.3 511.47 L156.3 512.51 L157.3 513.56 L158.3 514.6 L159.3 515.64 L160.3 516.68 L161.3 517.7 L162.3 518.72 L163.3 519.72 L164.3 520.71 L165.3 521.68 L166.3 522.64 L167.3 523.57 L168.3 524.48 L169.3 525.37 L170.3 526.26 L171.3 527.13 L172.3 527.99 L173.3 528.84 L174.3 529.68 L175.3 530.51 L176.3 531.33 L177.3 532.14 L178.3 532.95 L179.3 533.74 L180.3 534.53 L181.3 535.32 L182.3 536.09 L183.3 536.87 L184.3 537.64 L185.3 538.4 L186.3 539.17 L187.3 539.92 L188.3 540.67 L189.3 541.41 L190.3 542.15 L191.3 542.88 L192.3 543.6 L193.3 544.31 L194.3 545.01 L195.3 545.7 L196.3 546.38 L197.3 547.05 L198.3 547.71 L199.3 548.35 L200.3 548.99 L201.3 549.63 L202.3 550.25 L203.3 550.87 L204.3 551.48 L205.3 552.09 L206.3 552.68 L207.3 553.27 L208.3 553.85 L209.3 554.42 L210.3 554.98 L211.3 555.53 L212.3 556.08 L213.3 556.61 L214.3 557.14 L215.3 557.65 L216.3 558.16 L217.3 558.66 L218.3 559.15 L219.3 559.64 L220.3 560.12 L221.3 560.59 L222.3 561.06 L223.3 561.52 L224.3 561.97 L225.3 562.42 L226.3 562.86 L227.3 563.3 L228.3 563.73 L229.3 564.16 L230.3 564.58 L231.3 565 L232.3 565.42 L233.3 565.83 L234.3 566.24 L235.3 566.64 L236.3 567.04 L237.3 567.43 L238.3 567.82 L239.3 568.2 L240.3 568.59 L241.3 568.96 L242.3 569.34 L243.3 569.71 L244.3 570.08 L245.3 570.44 L246.3 570.8 L247.3 571.16 L248.3 571.52 L249.3 571.88 L250.3 572.23 L251.3 572.58 L252.3 572.93 L253.3 573.28 L254.3 573.63 L255.3 573.97 L256.3 574.31 L257.3 574.66 L258.3 575 L259.3 575.33 L260.3 575.67 L261.3 576 L262.3 576.33 L263.3 576.65 L264.3 576.97 L265.3 577.29 L266.3 577.6 L267.3 577.9 L268.3 578.2 L269.3 578.5 L270.3 578.79 L271.3 579.07 L272.3 579.35 L273.3 579.63 L274.3 579.91 L275.3 580.18 L276.3 580.45 L277.3 580.71 L278.3 580.98 L279.3 581.24 L280.3 581.5 L281.3 581.75 L282.3 582 L283.3 582.26 L284.3 582.5 L285.3 582.75 L286.3 583 L287.3 583.24 L288.3 583.48 L289.3 583.72 L290.3 583.95 L291.3 584.19 L292.3 584.42 L293.3 584.66 L294.3 584.89 L295.3 585.12 L296.3 585.35 L297.3 585.58 L298.3 585.8 L299.3 586.03 L300.3 586.25 L301.3 586.47 L302.3 586.69 L303.3 586.91 L304.3 587.12 L305.3 587.34 L306.3 587.55 L307.3 587.76 L308.3 587.97 L309.3 588.18 L310.3 588.39 L311.3 588.59 L312.3 588.8 L313.3 589 L314.3 589.2 L315.3 589.4 L316.3 589.59 L317.3 589.79 L318.3 589.98 L319.3 590.17 L320.3 590.36 L321.3 590.54 L322.3 590.73 L323.3 590.91 L324.3 591.1 L325.3 591.28 L326.3 591.46 L327.3 591.64 L328.3 591.82 L329.3 592 L330.3 592.17 L331.3 592.35 L332.3 592.52 L333.3 592.69 L334.3 592.86 L335.3 593.02 L336.3 593.19 L337.3 593.35 L338.3 593.52 L339.3 593.68 L340.3 593.83 L341.3 593.99 L342.3 594.14 L343.3 594.3 L344.3 594.45 L345.3 594.59 L346.3 594.74 L347.3 594.89 L348.3 595.03 L349.3 595.17 L350.3 595.31 L351.3 595.45 L352.3 595.59 L353.3 595.72 L354.3 595.86 L355.3 595.99 L356.3 596.13 L357.3 596.26 L358.3 596.39 L359.3 596.51 L360.3 596.64 L361.3 596.77 L362.3 596.89 L363.3 597.01 L364.3 597.13 L365.3 597.25 L366.3 597.37 L367.3 597.49 L368.3 597.61 L369.3 597.72 L370.3 597.83 L371.3 597.95 L372.3 598.06 L373.3 598.16 L374.3 598.27 L375.3 598.38 L376.3 598.48 L377.3 598.59 L378.3 598.69 L379.3 598.79 L380.3 598.89 L381.3 598.99 L382.3 599.09 L383.3 599.19 L384.3 599.28 L385.3 599.38 L386.3 599.48 L387.3 599.57 L388.3 599.67 L389.3 599.76 L390.3 599.86 L391.3 599.95 L392.3 600.04 L393.3 600.14 L394.3 600.23 L395.3 600.33 L396.3 600.42 L397.3 600.52 L398.3 600.61 L399.3 600.7 L400.3 600.79 L401.3 600.89 L402.3 600.98 L403.3 601.07 L404.3 601.16 L405.3 601.25 L406.3 601.34 L407.3 601.43 L408.3 601.52 L409.3 601.6 L410.3 601.69 L411.3 601.78 L412.3 601.87 L413.3 601.96 L414.3 602.05 L415.3 602.13 L416.3 602.22 L417.3 602.31 L418.3 602.4 L419.3 602.49 L420.3 602.58 L421.3 602.67 L422.3 602.75 L423.3 602.84 L424.3 602.93 L425.3 603.02 L426.3 603.11 L427.3 603.19 L428.3 603.28 L429.3 603.37 L430.3 603.46 L431.3 603.54 L432.3 603.63 L433.3 603.72 L434.3 603.81 L435.3 603.89 L436.3 603.98 L437.3 604.07 L438.3 604.15 L439.3 604.24 L440.3 604.33 L441.3 604.41 L442.3 604.5 L443.3 604.59 L444.3 604.68 L445.3 604.77 L446.3 604.85 L447.3 604.94 L448.3 605.03 L449.3 605.12 L450.3 605.22 L451.3 605.31 L452.3 605.4 L453.3 605.49 L454.3 605.58 L455.3 605.67 L456.3 605.76 L457.3 605.85 L458.3 605.94 L459.3 606.03 L460.3 606.12 L461.3 606.22 L462.3 606.31 L463.3 606.4 L464.3 606.49 L465.3 606.57 L466.3 606.66 L467.3 606.75 L468.3 606.84 L469.3 606.93 L470.3 607.01 L471.3 607.1 L472.3 607.19 L473.3 607.27 L474.3 607.35 L475.3 607.44 L476.3 607.52 L477.3 607.6 L478.3 607.68 L479.3 607.76 L480.3 607.84 L481.3 607.92 L482.3 608 L483.3 608.07 L484.3 608.15 L485.3 608.22 L486.3 608.29 L487.3 608.36 L488.3 608.43 L489.3 608.5 L490.3 608.57 L491.3 608.64 L492.3 608.7 L493.3 608.77 L494.3 608.83 L495.3 608.9 L496.3 608.96 L497.3 609.03 L498.3 609.09 L499.3 609.15 L500.3 609.21 L501.3 609.27 L502.3 609.34 L503.3 609.4 L504.3 609.46 L505.3 609.52 L506.3 609.58 L507.3 609.64 L508.3 609.69 L509.3 609.75 L510.3 609.81 L511.3 609.87 L512.3 609.92 L513.3 609.98 L514.3 610.03 L515.3 610.09 L516.3 610.14 L517.3 610.2 L518.3 610.25 L519.3 610.31 L520.3 610.36 L521.3 610.41 L522.3 610.46 L523.3 610.51 L524.3 610.56 L525.3 610.62 L526.3 610.66 L527.3 610.71 L528.3 610.76 L529.3 610.81 L530.3 610.86 L531.3 610.91 L532.3 610.95 L533.3 611 L534.3 611.05 L535.3 611.09 L536.3 611.14 L537.3 611.18 L538.3 611.23 L539.3 611.27 L540.3 611.31 L541.3 611.36 L542.3 611.4 L543.3 611.44 L544.3 611.48 L545.3 611.52 L546.3 611.57 L547.3 611.61 L548.3 611.65 L549.3 611.69 L550.3 611.73 L551.3 611.77 L552.3 611.81 L553.3 611.85 L554.3 611.88 L555.3 611.92 L556.3 611.96 L557.3 612 L558.3 612.04 L559.3 612.07 L560.3 612.11 L561.3 612.15 L562.3 612.18 L563.3 612.22 L564.3 612.25 L565.3 612.29 L566.3 612.32 L567.3 612.35 L568.3 612.39 L569.3 612.42 L570.3 612.45 L571.3 612.49 L572.3 612.52 L573.3 612.55 L574.3 612.58 L575.3 612.61 L576.3 612.64 L577.3 612.67 L578.3 612.7 L579.3 612.73 L580.3 612.75 L581.3 612.78 L581.8 612.79" stroke="#008000" stroke-width="3.6" stroke-dasharray="4.9 6.7 1.2 6.8"/>
<path d="M77.3 357 L78.3 361.72 L79.3 366.33 L80.3 370.78 L81.3 375.14 L82.3 379.95 L83.3 385.16 L84.3 390.72 L85.3 396.84 L86.3 402.69 L87.3 408.16 L88.3 413.12 L89.3 417.53 L90.3 421.8 L91.3 425.86 L92.3 429.25 L93.3 432.17 L94.3 434.75 L95.3 437.1 L96.3 439.25 L97.3 441.18 L98.3 442.88 L99.3 444.43 L100.3 445.96 L101.3 447.47 L102.3 448.92 L103.3 450.31 L104.3 451.67 L105.3 452.99 L106.3 454.29 L107.3 455.55 L108.3 456.76 L109.3 457.88 L110.3 458.99 L111.3 460.15 L112.3 461.42 L113.3 462.96 L114.3 464.69 L115.3 466.22 L116.3 467.45 L117.3 468.64 L118.3 470 L119.3 471.7 L120.3 473.67 L121.3 475.79 L122.3 477.94 L123.3 480 L124.3 481.97 L125.3 483.93 L126.3 485.9 L127.3 487.84 L128.3 489.8 L129.3 491.93 L130.3 494.58 L131.3 496.35 L132.3 497.55 L133.3 497.8 L134.3 497.8 L135.3 497.8 L136.3 497.81 L137.3 498.68 L138.3 500.19 L139.3 501.45 L140.3 502.64 L141.3 503.83 L142.3 504.98 L143.3 506.06 L144.3 507.09 L145.3 508.11 L146.3 509.16 L147.3 510.28 L148.3 511.44 L149.3 512.64 L150.3 513.85 L151.3 515.08 L152.3 516.3 L153.3 517.5 L154.3 518.69 L155.3 519.88 L156.3 521.07 L157.3 522.25 L158.3 523.43 L159.3 524.59 L160.3 525.74 L161.3 526.89 L162.3 528.02 L163.3 529.15 L164.3 530.27 L165.3 531.37 L166.3 532.46 L167.3 533.54 L168.3 534.6 L169.3 535.66 L170.3 536.71 L171.3 537.76 L172.3 538.81 L173.3 539.84 L174.3 540.87 L175.3 541.89 L176.3 542.89 L177.3 543.88 L178.3 544.86 L179.3 545.81 L180.3 546.75 L181.3 547.67 L182.3 548.57 L183.3 549.45 L184.3 550.32 L185.3 551.17 L186.3 552.02 L187.3 552.85 L188.3 553.67 L189.3 554.48 L190.3 555.28 L191.3 556.07 L192.3 556.85 L193.3 557.61 L194.3 558.37 L195.3 559.12 L196.3 559.85 L197.3 560.58 L198.3 561.3 L199.3 562.01 L200.3 562.71 L201.3 563.4 L202.3 564.09 L203.3 564.78 L204.3 565.45 L205.3 566.12 L206.3 566.79 L207.3 567.44 L208.3 568.09 L209.3 568.73 L210.3 569.37 L211.3 569.99 L212.3 570.61 L213.3 571.21 L214.3 571.81 L215.3 572.4 L216.3 572.97 L217.3 573.53 L218.3 574.09 L219.3 574.63 L220.3 575.16 L221.3 575.68 L222.3 576.2 L223.3 576.71 L224.3 577.22 L225.3 577.72 L226.3 578.22 L227.3 578.71 L228.3 579.2 L229.3 579.68 L230.3 580.15 L231.3 580.62 L232.3 581.08 L233.3 581.53 L234.3 581.98 L235.3 582.41 L236.3 582.85 L237.3 583.27 L238.3 583.68 L239.3 584.09 L240.3 584.49 L241.3 584.88 L242.3 585.26 L243.3 585.64 L244.3 586 L245.3 586.36 L246.3 586.7 L247.3 587.04 L248.3 587.37 L249.3 587.7 L250.3 588.02 L251.3 588.33 L252.3 588.64 L253.3 588.94 L254.3 589.23 L255.3 589.53 L256.3 589.81 L257.3 590.1 L258.3 590.38 L259.3 590.65 L260.3 590.93 L261.3 591.2 L262.3 591.47 L263.3 591.73 L264.3 592 L265.3 592.26 L266.3 592.53 L267.3 592.79 L268.3 593.05 L269.3 593.32 L270.3 593.58 L271.3 593.84 L272.3 594.1 L273.3 594.36 L274.3 594.62 L275.3 594.87 L276.3 595.13 L277.3 595.38 L278.3 595.63 L279.3 595.88 L280.3 596.13 L281.3 596.37 L282.3 596.62 L283.3 596.86 L284.3 597.1 L285.3 597.34 L286.3 597.57 L287.3 597.81 L288.3 598.04 L289.3 598.27 L290.3 598.5 L291.3 598.73 L292.3 598.95 L293.3 599.17 L294.3 599.4 L295.3 599.62 L296.3 599.83 L297.3 600.05 L298.3 600.26 L299.3 600.47 L300.3 600.67 L301.3 600.88 L302.3 601.08 L303.3 601.28 L304.3 601.48 L305.3 601.68 L306.3 601.87 L307.3 602.07 L308.3 602.27 L309.3 602.46 L310.3 602.65 L311.3 602.85 L312.3 603.04 L313.3 603.23 L314.3 603.43 L315.3 603.62 L316.3 603.82 L317.3 604.01 L318.3 604.21 L319.3 604.41 L320.3 604.61 L321.3 604.81 L322.3 605.02 L323.3 605.23 L324.3 605.44 L325.3 605.65 L326.3 605.86 L327.3 606.07 L328.3 606.29 L329.3 606.5 L330.3 606.72 L331.3 606.93 L332.3 607.14 L333.3 607.35 L334.3 607.56 L335.3 607.76 L336.3 607.97 L337.3 608.17 L338.3 608.36 L339.3 608.55 L340.3 608.74 L341.3 608.92 L342.3 609.1 L343.3 609.27 L344.3 609.44 L345.3 609.6 L346.3 609.75 L347.3 609.9 L348.3 610.05 L349.3 610.19 L350.3 610.33 L351.3 610.47 L352.3 610.61 L353.3 610.74 L354.3 610.87 L355.3 611 L356.3 611.13 L357.3 611.25 L358.3 611.38 L359.3 611.5 L360.3 611.62 L361.3 611.74 L362.3 611.86 L363.3 611.98 L364.3 612.1 L365.3 612.22 L366.3 612.35 L367.3 612.47 L368.3 612.59 L369.3 612.71 L370.3 612.84 L371.3 612.96 L372.3 613.09 L373.3 613.21 L374.3 613.34 L375.3 613.46 L376.3 613.59 L377.3 613.71 L378.3 613.83 L379.3 613.96 L380.3 614.08 L381.3 614.2 L382.3 614.32 L383.3 614.45 L384.3 614.57 L385.3 614.69 L386.3 614.81 L387.3 614.92 L388.3 615.04 L389.3 615.16 L390.3 615.27 L391.3 615.39 L392.3 615.5 L393.3 615.61 L394.3 615.72 L395.3 615.83 L396.3 615.94 L397.3 616.05 L398.3 616.16 L399.3 616.27 L400.3 616.38 L401.3 616.49 L402.3 616.6 L403.3 616.71 L404.3 616.81 L405.3 616.92 L406.3 617.03 L407.3 617.13 L408.3 617.24 L409.3 617.34 L410.3 617.44 L411.3 617.54 L412.3 617.63 L413.3 617.73 L414.3 617.82 L415.3 617.91 L416.3 618 L417.3 618.08 L418.3 618.17 L419.3 618.25 L420.3 618.32 L421.3 618.4 L422.3 618.47 L423.3 618.54 L424.3 618.6 L425.3 618.67 L426.3 618.73 L427.3 618.8 L428.3 618.86 L429.3 618.92 L430.3 618.97 L431.3 619.03 L432.3 619.09 L433.3 619.15 L434.3 619.21 L435.3 619.27 L436.3 619.32 L437.3 619.38 L438.3 619.44 L439.3 619.51 L440.3 619.57 L441.3 619.63 L442.3 619.7 L443.3 619.76 L444.3 619.83 L445.3 619.89 L446.3 619.95 L447.3 620.02 L448.3 620.08 L449.3 620.15 L450.3 620.21 L451.3 620.28 L452.3 620.35 L453.3 620.41 L454.3 620.48 L455.3 620.54 L456.3 620.61 L457.3 620.67 L458.3 620.74 L459.3 620.81 L460.3 620.87 L461.3 620.94 L462.3 621 L463.3 621.07 L464.3 621.14 L465.3 621.2 L466.3 621.27 L467.3 621.33 L468.3 621.4 L469.3 621.47 L470.3 621.53 L471.3 621.6 L472.3 621.66 L473.3 621.73 L474.3 621.79 L475.3 621.86 L476.3 621.92 L477.3 621.99 L478.3 622.05 L479.3 622.12 L480.3 622.18 L481.3 622.25 L482.3 622.31 L483.3 622.38 L484.3 622.44 L485.3 622.5 L486.3 622.57 L487.3 622.63 L488.3 622.69 L489.3 622.76 L490.3 622.82 L491.3 622.88 L492.3 622.94 L493.3 623.01 L494.3 623.07 L495.3 623.13 L496.3 623.2 L497.3 623.26 L498.3 623.32 L499.3 623.39 L500.3 623.45 L501.3 623.52 L502.3 623.58 L503.3 623.64 L504.3 623.71 L505.3 623.77 L506.3 623.84 L507.3 623.9 L508.3 623.96 L509.3 624.03 L510.3 624.09 L511.3 624.15 L512.3 624.22 L513.3 624.28 L514.3 624.34 L515.3 624.4 L516.3 624.46 L517.3 624.53 L518.3 624.59 L519.3 624.65 L520.3 624.71 L521.3 624.77 L522.3 624.83 L523.3 624.89 L524.3 624.95 L525.3 625.01 L526.3 625.06 L527.3 625.12 L528.3 625.18 L529.3 625.24 L530.3 625.29 L531.3 625.35 L532.3 625.4 L533.3 625.46 L534.3 625.51 L535.3 625.56 L536.3 625.61 L537.3 625.67 L538.3 625.72 L539.3 625.77 L540.3 625.81 L541.3 625.86 L542.3 625.91 L543.3 625.96 L544.3 626.01 L545.3 626.06 L546.3 626.1 L547.3 626.15 L548.3 626.2 L549.3 626.24 L550.3 626.29 L551.3 626.33 L552.3 626.38 L553.3 626.42 L554.3 626.47 L555.3 626.51 L556.3 626.56 L557.3 626.6 L558.3 626.64 L559.3 626.69 L560.3 626.73 L561.3 626.77 L562.3 626.81 L563.3 626.85 L564.3 626.89 L565.3 626.93 L566.3 626.97 L567.3 627.01 L568.3 627.05 L569.3 627.09 L570.3 627.13 L571.3 627.17 L572.3 627.21 L573.3 627.24 L574.3 627.28 L575.3 627.32 L576.3 627.35 L577.3 627.39 L578.3 627.42 L579.3 627.46 L580.3 627.49 L581.3 627.53 L581.8 627.54" stroke="#00bfbf" stroke-width="3.4" stroke-dasharray="2.7 3.1"/>
<path d="M77.3 357 L78.3 361.72 L79.3 366.33 L80.3 370.78 L81.3 375.14 L82.3 379.95 L83.3 385.16 L84.3 390.72 L85.3 396.84 L86.3 402.69 L87.3 408.16 L88.3 413.12 L89.3 417.53 L90.3 421.8 L91.3 425.86 L92.3 429.25 L93.3 432.17 L94.3 434.75 L95.3 437.1 L96.3 439.25 L97.3 441.18 L98.3 442.88 L99.3 444.43 L100.3 445.96 L101.3 447.47 L102.3 448.92 L103.3 450.31 L104.3 451.67 L105.3 452.99 L106.3 454.29 L107.3 455.55 L108.3 456.76 L109.3 457.88 L110.3 458.99 L111.3 460.15 L112.3 461.42 L113.3 462.96 L114.3 464.69 L115.3 466.22 L116.3 467.45 L117.3 468.64 L118.3 470 L119.3 471.7 L120.3 473.67 L121.3 475.79 L122.3 477.94 L123.3 480 L124.3 481.97 L125.3 483.93 L126.3 485.9 L127.3 487.84 L128.3 489.8 L129.3 491.93 L130.3 494.58 L131.3 496.35 L132.3 497.55 L133.3 497.8 L134.3 497.8 L135.3 497.8 L136.3 497.81 L137.3 498.68 L138.3 500.19 L139.3 501.45 L140.3 502.64 L141.3 503.83 L142.3 504.98 L143.3 506.06 L144.3 507.09 L145.3 508.11 L146.3 509.16 L147.3 510.28 L148.3 511.44 L149.3 512.64 L150.3 513.85 L151.3 515.08 L152.3 516.3 L153.3 517.5 L154.3 518.69 L155.3 519.88 L156.3 521.07 L157.3 522.25 L158.3 523.43 L159.3 524.59 L160.3 525.74 L161.3 526.89 L162.3 528.02 L163.3 529.15 L164.3 530.27 L165.3 531.37 L166.3 532.46 L167.3 533.54 L168.3 534.6 L169.3 535.66 L170.3 536.71 L171.3 537.76 L172.3 538.81 L173.3 539.84 L174.3 540.87 L175.3 541.89 L176.3 542.89 L177.3 543.88 L178.3 544.86 L179.3 545.81 L180.3 546.75 L181.3 547.67 L182.3 548.57 L183.3 549.45 L184.3 550.32 L185.3 551.17 L186.3 552.02 L187.3 552.85 L188.3 553.67 L189.3 554.48 L190.3 555.28 L191.3 556.07 L192.3 556.85 L193.3 557.61 L194.3 558.37 L195.3 559.12 L196.3 559.85 L197.3 560.58 L198.3 561.3 L199.3 562.01 L200.3 562.71 L201.3 563.4 L202.3 564.09 L203.3 564.78 L204.3 565.45 L205.3 566.12 L206.3 566.79 L207.3 567.44 L208.3 568.09 L209.3 568.73 L210.3 569.37 L211.3 569.99 L212.3 570.61 L213.3 571.21 L214.3 571.81 L215.3 572.4 L216.3 572.97 L217.3 573.53 L218.3 574.09 L219.3 574.63 L220.3 575.16 L221.3 575.68 L222.3 576.2 L223.3 576.71 L224.3 577.22 L225.3 577.72 L226.3 578.22 L227.3 578.71 L228.3 579.2 L229.3 579.68 L230.3 580.15 L231.3 580.62 L232.3 581.08 L233.3 581.53 L234.3 581.98 L235.3 582.41 L236.3 582.85 L237.3 583.27 L238.3 583.68 L239.3 584.09 L240.3 584.49 L241.3 584.88 L242.3 585.26 L243.3 585.64 L244.3 586 L245.3 586.36 L246.3 586.7 L247.3 587.04 L248.3 587.37 L249.3 587.7 L250.3 588.02 L251.3 588.33 L252.3 588.64 L253.3 588.94 L254.3 589.23 L255.3 589.53 L256.3 589.81 L257.3 590.1 L258.3 590.38 L259.3 590.65 L260.3 590.93 L261.3 591.2 L262.3 591.47 L263.3 591.73 L264.3 592 L265.3 592.26 L266.3 592.53 L267.3 592.79 L268.3 593.05 L269.3 593.32 L270.3 593.58 L271.3 593.84 L272.3 594.1 L273.3 594.36 L274.3 594.62 L275.3 594.87 L276.3 595.13 L277.3 595.38 L278.3 595.63 L279.3 595.88 L280.3 596.13 L281.3 596.37 L282.3 596.62 L283.3 596.86 L284.3 597.1 L285.3 597.34 L286.3 597.57 L287.3 597.81 L288.3 598.04 L289.3 598.27 L290.3 598.5 L291.3 598.73 L292.3 598.95 L293.3 599.17 L294.3 599.4 L295.3 599.62 L296.3 599.83 L297.3 600.05 L298.3 600.26 L299.3 600.47 L300.3 600.67 L301.3 600.88 L302.3 601.08 L303.3 601.28 L304.3 601.48 L305.3 601.68 L306.3 601.87 L307.3 602.07 L308.3 602.27 L309.3 602.46 L310.3 602.65 L311.3 602.85 L312.3 603.04 L313.3 603.23 L314.3 603.43 L315.3 603.62 L316.3 603.82 L317.3 604.01 L318.3 604.21 L319.3 604.41 L320.3 604.61 L321.3 604.81 L322.3 605.02 L323.3 605.23 L324.3 605.44 L325.3 605.65 L326.3 605.86 L327.3 606.07 L328.3 606.29 L329.3 606.5 L330.3 606.72 L331.3 606.93 L332.3 607.14 L333.3 607.35 L334.3 607.56 L335.3 607.76 L336.3 607.97 L337.3 608.17 L338.3 608.36 L339.3 608.55 L340.3 608.74 L341.3 608.92 L342.3 609.1 L343.3 609.27 L344.3 609.44 L345.3 609.6 L346.3 609.75 L347.3 609.9 L348.3 610.05 L349.3 610.19 L350.3 610.33 L351.3 610.47 L352.3 610.61 L353.3 610.74 L354.3 610.87 L355.3 611 L356.3 611.13 L357.3 611.25 L358.3 611.38 L359.3 611.5 L360.3 611.62 L361.3 611.74 L362.3 611.86 L363.3 611.98 L364.3 612.1 L365.3 612.22 L366.3 612.35 L367.3 612.47 L368.3 612.59 L369.3 612.71 L370.3 612.84 L371.3 612.96 L372.3 613.09 L373.3 613.21 L374.3 613.34 L375.3 613.46 L376.3 613.59 L377.3 613.71 L378.3 613.83 L379.3 613.96 L380.3 614.08 L381.3 614.2 L382.3 614.32 L383.3 614.45 L384.3 614.57 L385.3 614.69 L386.3 614.81 L387.3 614.92 L388.3 615.04 L389.3 615.16 L390.3 615.27 L391.3 615.39 L392.3 615.5 L393.3 615.61 L394.3 615.72 L395.3 615.83 L396.3 615.94 L397.3 616.05 L398.3 616.16 L399.3 616.27 L400.3 616.38 L401.3 616.49 L402.3 616.6 L403.3 616.71 L404.3 616.81 L405.3 616.92 L406.3 617.03 L407.3 617.13 L408.3 617.24 L409.3 617.34 L410.3 617.44 L411.3 617.54 L412.3 617.63 L413.3 617.73 L414.3 617.82 L415.3 617.91 L416.3 618 L417.3 618.08 L418.3 618.17 L419.3 618.25 L420.3 618.32 L421.3 618.4 L422.3 618.47 L423.3 618.54 L424.3 618.6 L425.3 618.67 L426.3 618.73 L427.3 618.8 L428.3 618.86 L429.3 618.92 L430.3 618.97 L431.3 619.03 L432.3 619.09 L433.3 619.15 L434.3 619.21 L435.3 619.27 L436.3 619.32 L437.3 619.38 L438.3 619.44 L439.3 619.51 L440.3 619.57 L441.3 619.63 L442.3 619.7 L443.3 619.76 L444.3 619.83 L445.3 619.89 L446.3 619.95 L447.3 620.02 L448.3 620.08 L449.3 620.15 L450.3 620.21 L451.3 620.28 L452.3 620.35 L453.3 620.41 L454.3 620.48 L455.3 620.54 L456.3 620.61 L457.3 620.67 L458.3 620.74 L459.3 620.81 L460.3 620.87 L461.3 620.94 L462.3 621 L463.3 621.07 L464.3 621.14 L465.3 621.2 L466.3 621.27 L467.3 621.33 L468.3 621.4 L469.3 621.47 L470.3 621.53 L471.3 621.6 L472.3 621.66 L473.3 621.73 L474.3 621.79 L475.3 621.86 L476.3 621.92 L477.3 621.99 L478.3 622.05 L479.3 622.12 L480.3 622.18 L481.3 622.25 L482.3 622.31 L483.3 622.38 L484.3 622.44 L485.3 622.5 L486.3 622.57 L487.3 622.63 L488.3 622.69 L489.3 622.76 L490.3 622.82 L491.3 622.88 L492.3 622.94 L493.3 623.01 L494.3 623.07 L495.3 623.13 L496.3 623.2 L497.3 623.26 L498.3 623.32 L499.3 623.39 L500.3 623.45 L501.3 623.52 L502.3 623.58 L503.3 623.64 L504.3 623.71 L505.3 623.77 L506.3 623.84 L507.3 623.9 L508.3 623.96 L509.3 624.03 L510.3 624.09 L511.3 624.15 L512.3 624.22 L513.3 624.28 L514.3 624.34 L515.3 624.4 L516.3 624.46 L517.3 624.53 L518.3 624.59 L519.3 624.65 L520.3 624.71 L521.3 624.77 L522.3 624.83 L523.3 624.89 L524.3 624.95 L525.3 625.01 L526.3 625.06 L527.3 625.12 L528.3 625.18 L529.3 625.24 L530.3 625.29 L531.3 625.35 L532.3 625.4 L533.3 625.46 L534.3 625.51 L535.3 625.56 L536.3 625.61 L537.3 625.67 L538.3 625.72 L539.3 625.77 L540.3 625.81 L541.3 625.86 L542.3 625.91 L543.3 625.96 L544.3 626.01 L545.3 626.06 L546.3 626.1 L547.3 626.15 L548.3 626.2 L549.3 626.24 L550.3 626.29 L551.3 626.33 L552.3 626.38 L553.3 626.42 L554.3 626.47 L555.3 626.51 L556.3 626.56 L557.3 626.6 L558.3 626.64 L559.3 626.69 L560.3 626.73 L561.3 626.77 L562.3 626.81 L563.3 626.85 L564.3 626.89 L565.3 626.93 L566.3 626.97 L567.3 627.01 L568.3 627.05 L569.3 627.09 L570.3 627.13 L571.3 627.17 L572.3 627.21 L573.3 627.24 L574.3 627.28 L575.3 627.32 L576.3 627.35 L577.3 627.39 L578.3 627.42 L579.3 627.46 L580.3 627.49 L581.3 627.53 L581.8 627.54" stroke="#0000ff" stroke-width="3.8" stroke-dasharray="9 8.2" stroke-dashoffset="0"/>
<path d="M76.7 356.3 L77.7 368.7 L78.7 375.7 L79.7 381.82 L80.7 387.7 L81.7 394.32 L82.7 400.85 L83.7 407.1 L84.7 413.62 L85.7 419.66 L86.7 422.02 L87.7 423.43 L88.7 424.32 L89.7 424.99 L90.7 425.53 L91.7 425.98 L92.7 426.37 L93.7 426.75 L94.7 427.09 L95.7 427.39 L96.7 427.67 L97.7 427.93 L98.7 428.2 L99.7 428.47 L100.7 428.77 L101.7 429.09 L102.7 429.42 L103.7 429.75 L104.7 430.1 L105.7 430.45 L106.7 430.8 L107.7 431.16 L108.7 431.52 L109.7 431.89 L110.7 432.29 L111.7 432.71 L112.7 433.13 L113.7 433.53 L114.7 433.89 L115.7 434.18 L116.7 434.39 L117.7 434.57 L118.7 434.72 L119.7 434.89 L120.7 435.08 L121.7 435.3 L122.7 435.53 L123.7 435.82 L124.7 436.17 L125.7 436.69 L126.7 437.49 L127.7 438.53 L128.7 440.1 L129.7 441.96 L130.7 443.74 L131.7 445.58 L132.7 447.45 L133.7 449.32 L134.7 451.16 L135.7 452.95 L136.7 454.7 L137.7 456.44 L138.7 458.17 L139.7 459.89 L140.7 461.6 L141.7 463.3 L142.7 464.99 L143.7 466.67 L144.7 468.35 L145.7 470.02 L146.7 471.7 L147.7 473.38 L148.7 475.06 L149.7 476.74 L150.7 478.41 L151.7 480.08 L152.7 481.72 L153.7 483.35 L154.7 484.97 L155.7 486.59 L156.7 488.19 L157.7 489.78 L158.7 491.33 L159.7 492.85 L160.7 494.33 L161.7 495.78 L162.7 497.2 L163.7 498.6 L164.7 499.98 L165.7 501.35 L166.7 502.7 L167.7 504.04 L168.7 505.38 L169.7 506.69 L170.7 508 L171.7 509.28 L172.7 510.55 L173.7 511.8 L174.7 513.03 L175.7 514.24 L176.7 515.44 L177.7 516.63 L178.7 517.8 L179.7 518.96 L180.7 520.1 L181.7 521.24 L182.7 522.36 L183.7 523.47 L184.7 524.56 L185.7 525.64 L186.7 526.7 L187.7 527.74 L188.7 528.77 L189.7 529.78 L190.7 530.78 L191.7 531.76 L192.7 532.73 L193.7 533.68 L194.7 534.62 L195.7 535.55 L196.7 536.46 L197.7 537.34 L198.7 538.2 L199.7 539.03 L200.7 539.85 L201.7 540.66 L202.7 541.45 L203.7 542.23 L204.7 543 L205.7 543.76 L206.7 544.52 L207.7 545.26 L208.7 546 L209.7 546.73 L210.7 547.45 L211.7 548.18 L212.7 548.89 L213.7 549.61 L214.7 550.32 L215.7 551.03 L216.7 551.74 L217.7 552.44 L218.7 553.13 L219.7 553.82 L220.7 554.51 L221.7 555.19 L222.7 555.86 L223.7 556.52 L224.7 557.18 L225.7 557.83 L226.7 558.47 L227.7 559.09 L228.7 559.71 L229.7 560.32 L230.7 560.92 L231.7 561.5 L232.7 562.08 L233.7 562.65 L234.7 563.2 L235.7 563.76 L236.7 564.3 L237.7 564.84 L238.7 565.37 L239.7 565.9 L240.7 566.43 L241.7 566.95 L242.7 567.47 L243.7 567.98 L244.7 568.5 L245.7 569.02 L246.7 569.53 L247.7 570.05 L248.7 570.57 L249.7 571.09 L250.7 571.62 L251.7 572.15 L252.7 572.68 L253.7 573.22 L254.7 573.76 L255.7 574.3 L256.7 574.84 L257.7 575.38 L258.7 575.91 L259.7 576.44 L260.7 576.97 L261.7 577.49 L262.7 578.01 L263.7 578.52 L264.7 579.02 L265.7 579.51 L266.7 580 L267.7 580.47 L268.7 580.92 L269.7 581.37 L270.7 581.8 L271.7 582.23 L272.7 582.65 L273.7 583.06 L274.7 583.47 L275.7 583.87 L276.7 584.27 L277.7 584.66 L278.7 585.04 L279.7 585.42 L280.7 585.8 L281.7 586.17 L282.7 586.54 L283.7 586.9 L284.7 587.26 L285.7 587.62 L286.7 587.97 L287.7 588.32 L288.7 588.67 L289.7 589.01 L290.7 589.36 L291.7 589.69 L292.7 590.03 L293.7 590.37 L294.7 590.7 L295.7 591.03 L296.7 591.36 L297.7 591.69 L298.7 592.01 L299.7 592.34 L300.7 592.66 L301.7 592.98 L302.7 593.29 L303.7 593.61 L304.7 593.92 L305.7 594.23 L306.7 594.53 L307.7 594.83 L308.7 595.13 L309.7 595.43 L310.7 595.73 L311.7 596.02 L312.7 596.3 L313.7 596.59 L314.7 596.87 L315.7 597.15 L316.7 597.42 L317.7 597.69 L318.7 597.96 L319.7 598.22 L320.7 598.48 L321.7 598.74 L322.7 599 L323.7 599.25 L324.7 599.5 L325.7 599.75 L326.7 600 L327.7 600.24 L328.7 600.48 L329.7 600.72 L330.7 600.96 L331.7 601.19 L332.7 601.42 L333.7 601.65 L334.7 601.88 L335.7 602.1 L336.7 602.32 L337.7 602.54 L338.7 602.76 L339.7 602.97 L340.7 603.18 L341.7 603.39 L342.7 603.59 L343.7 603.79 L344.7 603.99 L345.7 604.19 L346.7 604.38 L347.7 604.57 L348.7 604.76 L349.7 604.95 L350.7 605.14 L351.7 605.32 L352.7 605.5 L353.7 605.68 L354.7 605.86 L355.7 606.04 L356.7 606.21 L357.7 606.38 L358.7 606.55 L359.7 606.72 L360.7 606.88 L361.7 607.04 L362.7 607.2 L363.7 607.36 L364.7 607.52 L365.7 607.67 L366.7 607.82 L367.7 607.97 L368.7 608.11 L369.7 608.26 L370.7 608.4 L371.7 608.54 L372.7 608.67 L373.7 608.8 L374.7 608.93 L375.7 609.06 L376.7 609.19 L377.7 609.31 L378.7 609.43 L379.7 609.55 L380.7 609.67 L381.7 609.79 L382.7 609.9 L383.7 610.02 L384.7 610.13 L385.7 610.25 L386.7 610.36 L387.7 610.47 L388.7 610.59 L389.7 610.7 L390.7 610.81 L391.7 610.92 L392.7 611.04 L393.7 611.15 L394.7 611.27 L395.7 611.38 L396.7 611.5 L397.7 611.61 L398.7 611.73 L399.7 611.84 L400.7 611.96 L401.7 612.07 L402.7 612.19 L403.7 612.3 L404.7 612.41 L405.7 612.53 L406.7 612.64 L407.7 612.75 L408.7 612.86 L409.7 612.98 L410.7 613.08 L411.7 613.19 L412.7 613.3 L413.7 613.41 L414.7 613.51 L415.7 613.62 L416.7 613.72 L417.7 613.82 L418.7 613.92 L419.7 614.02 L420.7 614.12 L421.7 614.21 L422.7 614.31 L423.7 614.4 L424.7 614.49 L425.7 614.58 L426.7 614.66 L427.7 614.75 L428.7 614.84 L429.7 614.92 L430.7 615.01 L431.7 615.09 L432.7 615.17 L433.7 615.26 L434.7 615.34 L435.7 615.43 L436.7 615.51 L437.7 615.6 L438.7 615.69 L439.7 615.77 L440.7 615.86 L441.7 615.95 L442.7 616.04 L443.7 616.13 L444.7 616.22 L445.7 616.31 L446.7 616.4 L447.7 616.5 L448.7 616.59 L449.7 616.68 L450.7 616.77 L451.7 616.87 L452.7 616.96 L453.7 617.05 L454.7 617.15 L455.7 617.24 L456.7 617.33 L457.7 617.43 L458.7 617.52 L459.7 617.62 L460.7 617.71 L461.7 617.8 L462.7 617.9 L463.7 617.99 L464.7 618.08 L465.7 618.18 L466.7 618.27 L467.7 618.36 L468.7 618.45 L469.7 618.55 L470.7 618.64 L471.7 618.73 L472.7 618.82 L473.7 618.91 L474.7 619 L475.7 619.09 L476.7 619.18 L477.7 619.27 L478.7 619.36 L479.7 619.44 L480.7 619.53 L481.7 619.62 L482.7 619.7 L483.7 619.79 L484.7 619.87 L485.7 619.95 L486.7 620.04 L487.7 620.12 L488.7 620.2 L489.7 620.28 L490.7 620.36 L491.7 620.43 L492.7 620.51 L493.7 620.59 L494.7 620.67 L495.7 620.74 L496.7 620.82 L497.7 620.89 L498.7 620.97 L499.7 621.04 L500.7 621.12 L501.7 621.19 L502.7 621.26 L503.7 621.34 L504.7 621.41 L505.7 621.48 L506.7 621.56 L507.7 621.63 L508.7 621.7 L509.7 621.77 L510.7 621.84 L511.7 621.91 L512.7 621.98 L513.7 622.05 L514.7 622.12 L515.7 622.19 L516.7 622.26 L517.7 622.33 L518.7 622.4 L519.7 622.46 L520.7 622.53 L521.7 622.6 L522.7 622.67 L523.7 622.73 L524.7 622.8 L525.7 622.87 L526.7 622.93 L527.7 623 L528.7 623.07 L529.7 623.13 L530.7 623.2 L531.7 623.26 L532.7 623.33 L533.7 623.39 L534.7 623.46 L535.7 623.52 L536.7 623.59 L537.7 623.65 L538.7 623.72 L539.7 623.78 L540.7 623.84 L541.7 623.91 L542.7 623.97 L543.7 624.04 L544.7 624.1 L545.7 624.16 L546.7 624.23 L547.7 624.29 L548.7 624.35 L549.7 624.41 L550.7 624.47 L551.7 624.54 L552.7 624.6 L553.7 624.66 L554.7 624.72 L555.7 624.78 L556.7 624.84 L557.7 624.9 L558.7 624.96 L559.7 625.02 L560.7 625.08 L561.7 625.14 L562.7 625.2 L563.7 625.26 L564.7 625.32 L565.7 625.38 L566.7 625.44 L567.7 625.49 L568.7 625.55 L569.7 625.61 L570.7 625.67 L571.7 625.72 L572.7 625.78 L573.7 625.84 L574.7 625.89 L575.7 625.95 L576.7 626.01 L577.7 626.06 L578.7 626.12 L579.7 626.17 L580.7 626.23 L581.7 626.28 L581.8 626.29" stroke="#000" stroke-width="3"/>
</g>
<path d="M72.1 643.8h5.6M72.1 634.39h3M72.1 624.99h3M72.1 615.58h3M72.1 606.17h3M72.1 596.76h5.6M72.1 587.36h3M72.1 577.95h3M72.1 568.54h3M72.1 559.14h3M72.1 549.73h5.6M72.1 540.32h3M72.1 530.92h3M72.1 521.51h3M72.1 512.1h3M72.1 502.69h5.6M72.1 493.29h3M72.1 483.88h3M72.1 474.47h3M72.1 465.07h3M72.1 455.66h5.6M72.1 446.25h3M72.1 436.85h3M72.1 427.44h3M72.1 418.03h3M72.1 408.62h5.6M72.1 399.22h3M72.1 389.81h3M72.1 380.4h3M72.1 371h3M72.1 361.59h5.6M72.1 352.18h3M72.1 342.78h3M75.39 643.8v-3M99.5 643.8v-5.6M123.61 643.8v-3M147.73 643.8v-3M171.85 643.8v-3M195.96 643.8v-3M220.07 643.8v-5.6M244.19 643.8v-3M268.31 643.8v-3M292.42 643.8v-3M316.53 643.8v-3M340.65 643.8v-5.6M364.77 643.8v-3M388.88 643.8v-3M413 643.8v-3M437.11 643.8v-3M461.23 643.8v-5.6M485.34 643.8v-3M509.46 643.8v-3M533.57 643.8v-3M557.68 643.8v-3M581.8 643.8v-5.6" stroke="#151515" stroke-width="0.9" fill="none"/>
<path d="M72.1 333.5V643.8H582.3" stroke="#111" stroke-width="1.75" fill="none" stroke-linejoin="miter"/>
<text transform="translate(56 650.2) scale(1 1.14)" font-size="22" text-anchor="start" textLength="10.4" lengthAdjust="spacingAndGlyphs">0</text>
<text transform="translate(45.2 603.16) scale(1 1.14)" font-size="22" text-anchor="start" textLength="21.2" lengthAdjust="spacingAndGlyphs">50</text>
<text transform="translate(34.5 556.13) scale(1 1.14)" font-size="22" text-anchor="start" textLength="31.9" lengthAdjust="spacingAndGlyphs">100</text>
<text transform="translate(34.5 509.09) scale(1 1.14)" font-size="22" text-anchor="start" textLength="31.9" lengthAdjust="spacingAndGlyphs">150</text>
<text transform="translate(34.5 462.06) scale(1 1.14)" font-size="22" text-anchor="start" textLength="31.9" lengthAdjust="spacingAndGlyphs">200</text>
<text transform="translate(34.5 415.02) scale(1 1.14)" font-size="22" text-anchor="start" textLength="31.9" lengthAdjust="spacingAndGlyphs">250</text>
<text transform="translate(34.5 367.99) scale(1 1.14)" font-size="22" text-anchor="start" textLength="31.9" lengthAdjust="spacingAndGlyphs">300</text>
<text transform="translate(86.2 665.8) scale(1 1.14)" font-size="22" text-anchor="start" textLength="26.6" lengthAdjust="spacingAndGlyphs">0.5</text>
<text transform="translate(206.77 665.8) scale(1 1.14)" font-size="22" text-anchor="start" textLength="26.6" lengthAdjust="spacingAndGlyphs">1.0</text>
<text transform="translate(327.35 665.8) scale(1 1.14)" font-size="22" text-anchor="start" textLength="26.6" lengthAdjust="spacingAndGlyphs">1.5</text>
<text transform="translate(447.93 665.8) scale(1 1.14)" font-size="22" text-anchor="start" textLength="26.6" lengthAdjust="spacingAndGlyphs">2.0</text>
<text transform="translate(568.5 665.8) scale(1 1.14)" font-size="22" text-anchor="start" textLength="26.6" lengthAdjust="spacingAndGlyphs">2.5</text>
<g transform="translate(20.1 524.5) rotate(-90)">
<text transform="translate(0 0) scale(1 1.14)" font-size="22" text-anchor="start" font-style="italic" textLength="14.6" lengthAdjust="spacingAndGlyphs">T</text>
<text transform="translate(13.4 3.3) scale(1 1.02)" font-size="15.8" text-anchor="start" textLength="20.6" lengthAdjust="spacingAndGlyphs">gas</text>
<path d="M48.6 -16.9H45.4V5.3H48.6" stroke="#222" stroke-width="1" fill="none"/>
<text transform="translate(48.9 0) scale(1 1.14)" font-size="22" text-anchor="start" textLength="14.8" lengthAdjust="spacingAndGlyphs">K</text>
<path d="M63.8 -16.9H67V5.3H63.8" stroke="#222" stroke-width="1" fill="none"/>
</g>
<text transform="translate(150 41.6) scale(1 1.14)" font-size="22" text-anchor="start" textLength="41.2" lengthAdjust="spacingAndGlyphs">FLD</text>
<path d="M201.3 35.4H215.6M208.45 28.2V42.6" stroke="#111" stroke-width="0.95" fill="none"/>
<text transform="translate(224.3 41.6) scale(1 1.14)" font-size="22" text-anchor="start" textLength="78.2" lengthAdjust="spacingAndGlyphs">viscosity</text>
<text transform="translate(150 364.9) scale(1 1.14)" font-size="22" text-anchor="start" textLength="41.2" lengthAdjust="spacingAndGlyphs">FLD</text>
<path d="M201.3 358.7H215.6M208.45 351.5V365.9" stroke="#111" stroke-width="0.95" fill="none"/>
<text transform="translate(224.3 364.9) scale(1 1.14)" font-size="22" text-anchor="start" textLength="78.2" lengthAdjust="spacingAndGlyphs">viscosity</text>
<path d="M311.7 358.7H326.3M319 351.5V365.9" stroke="#111" stroke-width="0.95" fill="none"/>
<text transform="translate(335.2 364.9) scale(1 1.14)" font-size="22" text-anchor="start" textLength="48.8" lengthAdjust="spacingAndGlyphs">irrad.</text>
<path d="M423.8 40.5H453.9" stroke="#ff0000" stroke-width="3.7" fill="none"/>
<text transform="translate(463.2 45.6) scale(1 1.03)" font-size="23.5" text-anchor="start" font-style="italic" textLength="7" lengthAdjust="spacingAndGlyphs">t</text>
<path d="M472.4 49.9L480.4 28.6" stroke="#111" stroke-width="0.95" fill="none"/>
<text transform="translate(482.5 45.6) scale(1 1.03)" font-size="23.5" text-anchor="start" font-style="italic" textLength="7" lengthAdjust="spacingAndGlyphs">t</text>
<text transform="translate(489.6 49) scale(1 1)" font-size="16.5" text-anchor="start" textLength="7.6" lengthAdjust="spacingAndGlyphs">0</text>
<path d="M506.7 37.5H521.1M506.7 41.4H521.1" stroke="#111" stroke-width="0.95" fill="none"/>
<text transform="translate(529.8 45.6) scale(1 1.14)" font-size="22" text-anchor="start" textLength="10.4" lengthAdjust="spacingAndGlyphs">0</text>
<path d="M425 73.7H454" stroke="#008000" stroke-width="3.6" stroke-dasharray="4.9 6.7 1.2 6.8" fill="none"/>
<text transform="translate(463.2 78.8) scale(1 1.03)" font-size="23.5" text-anchor="start" font-style="italic" textLength="7" lengthAdjust="spacingAndGlyphs">t</text>
<path d="M472.4 83.1L480.4 61.8" stroke="#111" stroke-width="0.95" fill="none"/>
<text transform="translate(482.5 78.8) scale(1 1.03)" font-size="23.5" text-anchor="start" font-style="italic" textLength="7" lengthAdjust="spacingAndGlyphs">t</text>
<text transform="translate(489.6 82.2) scale(1 1)" font-size="16.5" text-anchor="start" textLength="7.6" lengthAdjust="spacingAndGlyphs">0</text>
<path d="M506.7 70.7H521.1M506.7 74.6H521.1" stroke="#111" stroke-width="0.95" fill="none"/>
<text transform="translate(528.6 78.8) scale(1 1.14)" font-size="22" text-anchor="start" textLength="22.2" lengthAdjust="spacingAndGlyphs">10</text>
<path d="M425 107H454" stroke="#00bfbf" stroke-width="3.6" stroke-dasharray="2.7 3.1" fill="none"/>
<text transform="translate(463.2 112.1) scale(1 1.03)" font-size="23.5" text-anchor="start" font-style="italic" textLength="7" lengthAdjust="spacingAndGlyphs">t</text>
<path d="M472.4 116.4L480.4 95.1" stroke="#111" stroke-width="0.95" fill="none"/>
<text transform="translate(482.5 112.1) scale(1 1.03)" font-size="23.5" text-anchor="start" font-style="italic" textLength="7" lengthAdjust="spacingAndGlyphs">t</text>
<text transform="translate(489.6 115.5) scale(1 1)" font-size="16.5" text-anchor="start" textLength="7.6" lengthAdjust="spacingAndGlyphs">0</text>
<path d="M506.7 104H521.1M506.7 107.9H521.1" stroke="#111" stroke-width="0.95" fill="none"/>
<text transform="translate(529.6 112.1) scale(1 1.14)" font-size="22" text-anchor="start" textLength="22.2" lengthAdjust="spacingAndGlyphs">50</text>
<path d="M425 140.3H454" stroke="#0000ff" stroke-width="3.6" stroke-dasharray="9 8.2" fill="none"/>
<text transform="translate(463.2 145.4) scale(1 1.03)" font-size="23.5" text-anchor="start" font-style="italic" textLength="7" lengthAdjust="spacingAndGlyphs">t</text>
<path d="M472.4 149.7L480.4 128.4" stroke="#111" stroke-width="0.95" fill="none"/>
<text transform="translate(482.5 145.4) scale(1 1.03)" font-size="23.5" text-anchor="start" font-style="italic" textLength="7" lengthAdjust="spacingAndGlyphs">t</text>
<text transform="translate(489.6 148.8) scale(1 1)" font-size="16.5" text-anchor="start" textLength="7.6" lengthAdjust="spacingAndGlyphs">0</text>
<path d="M506.7 137.3H521.1M506.7 141.2H521.1" stroke="#111" stroke-width="0.95" fill="none"/>
<text transform="translate(528.6 145.4) scale(1 1.14)" font-size="22" text-anchor="start" textLength="32.6" lengthAdjust="spacingAndGlyphs">100</text>
<path d="M423.8 172.6H453.9" stroke="#000" stroke-width="3" fill="none"/>
<text transform="translate(463 177.6) scale(1 1.14)" font-size="22" text-anchor="start" font-style="italic" textLength="14.4" lengthAdjust="spacingAndGlyphs">T</text>
<text transform="translate(476.8 180.7) scale(1 1.02)" font-size="15.4" text-anchor="start" textLength="54.2" lengthAdjust="spacingAndGlyphs">mid,visc</text>
<path d="M423.8 363.8H453.9" stroke="#ff0000" stroke-width="3.7" fill="none"/>
<text transform="translate(463.2 368.9) scale(1 1.03)" font-size="23.5" text-anchor="start" font-style="italic" textLength="7" lengthAdjust="spacingAndGlyphs">t</text>
<path d="M472.4 373.2L480.4 351.9" stroke="#111" stroke-width="0.95" fill="none"/>
<text transform="translate(482.5 368.9) scale(1 1.03)" font-size="23.5" text-anchor="start" font-style="italic" textLength="7" lengthAdjust="spacingAndGlyphs">t</text>
<text transform="translate(489.6 372.3) scale(1 1)" font-size="16.5" text-anchor="start" textLength="7.6" lengthAdjust="spacingAndGlyphs">0</text>
<path d="M506.7 360.8H521.1M506.7 364.7H521.1" stroke="#111" stroke-width="0.95" fill="none"/>
<text transform="translate(529.8 368.9) scale(1 1.14)" font-size="22" text-anchor="start" textLength="10.4" lengthAdjust="spacingAndGlyphs">0</text>
<path d="M425 397H454" stroke="#008000" stroke-width="3.6" stroke-dasharray="4.9 6.7 1.2 6.8" fill="none"/>
<text transform="translate(463.2 402.1) scale(1 1.03)" font-size="23.5" text-anchor="start" font-style="italic" textLength="7" lengthAdjust="spacingAndGlyphs">t</text>
<path d="M472.4 406.4L480.4 385.1" stroke="#111" stroke-width="0.95" fill="none"/>
<text transform="translate(482.5 402.1) scale(1 1.03)" font-size="23.5" text-anchor="start" font-style="italic" textLength="7" lengthAdjust="spacingAndGlyphs">t</text>
<text transform="translate(489.6 405.5) scale(1 1)" font-size="16.5" text-anchor="start" textLength="7.6" lengthAdjust="spacingAndGlyphs">0</text>
<path d="M506.7 394H521.1M506.7 397.9H521.1" stroke="#111" stroke-width="0.95" fill="none"/>
<text transform="translate(528.6 402.1) scale(1 1.14)" font-size="22" text-anchor="start" textLength="22.2" lengthAdjust="spacingAndGlyphs">10</text>
<path d="M425 430.3H454" stroke="#00bfbf" stroke-width="3.6" stroke-dasharray="2.7 3.1" fill="none"/>
<text transform="translate(463.2 435.4) scale(1 1.03)" font-size="23.5" text-anchor="start" font-style="italic" textLength="7" lengthAdjust="spacingAndGlyphs">t</text>
<path d="M472.4 439.7L480.4 418.4" stroke="#111" stroke-width="0.95" fill="none"/>
<text transform="translate(482.5 435.4) scale(1 1.03)" font-size="23.5" text-anchor="start" font-style="italic" textLength="7" lengthAdjust="spacingAndGlyphs">t</text>
<text transform="translate(489.6 438.8) scale(1 1)" font-size="16.5" text-anchor="start" textLength="7.6" lengthAdjust="spacingAndGlyphs">0</text>
<path d="M506.7 427.3H521.1M506.7 431.2H521.1" stroke="#111" stroke-width="0.95" fill="none"/>
<text transform="translate(529.6 435.4) scale(1 1.14)" font-size="22" text-anchor="start" textLength="22.2" lengthAdjust="spacingAndGlyphs">50</text>
<path d="M425 463.6H454" stroke="#0000ff" stroke-width="3.6" stroke-dasharray="9 8.2" fill="none"/>
<text transform="translate(463.2 468.7) scale(1 1.03)" font-size="23.5" text-anchor="start" font-style="italic" textLength="7" lengthAdjust="spacingAndGlyphs">t</text>
<path d="M472.4 473L480.4 451.7" stroke="#111" stroke-width="0.95" fill="none"/>
<text transform="translate(482.5 468.7) scale(1 1.03)" font-size="23.5" text-anchor="start" font-style="italic" textLength="7" lengthAdjust="spacingAndGlyphs">t</text>
<text transform="translate(489.6 472.1) scale(1 1)" font-size="16.5" text-anchor="start" textLength="7.6" lengthAdjust="spacingAndGlyphs">0</text>
<path d="M506.7 460.6H521.1M506.7 464.5H521.1" stroke="#111" stroke-width="0.95" fill="none"/>
<text transform="translate(528.6 468.7) scale(1 1.14)" font-size="22" text-anchor="start" textLength="32.6" lengthAdjust="spacingAndGlyphs">100</text>
<path d="M423.8 495.9H453.9" stroke="#000" stroke-width="3" fill="none"/>
<text transform="translate(463 500.9) scale(1 1.14)" font-size="22" text-anchor="start" font-style="italic" textLength="14.4" lengthAdjust="spacingAndGlyphs">T</text>
<text transform="translate(476.8 504) scale(1 1.02)" font-size="15.4" text-anchor="start" textLength="82.4" lengthAdjust="spacingAndGlyphs">mid,visc+irr</text>
<text transform="translate(294.2 693) scale(1 1)" font-size="23" text-anchor="start" font-style="italic" textLength="8.8" lengthAdjust="spacingAndGlyphs">r</text>
<path d="M316.2 676.1H313V698.3H316.2" stroke="#222" stroke-width="1" fill="none"/>
<text transform="translate(318 693) scale(1 1)" font-size="23" text-anchor="start" font-style="italic" textLength="11.2" lengthAdjust="spacingAndGlyphs">a</text>
<text transform="translate(329.4 695.5) scale(1 1)" font-size="15.4" text-anchor="start" textLength="24.6" lengthAdjust="spacingAndGlyphs">Jup</text>
<path d="M354.6 676.1H357.8V698.3H354.6" stroke="#222" stroke-width="1" fill="none"/>
</svg>
</body></html>
